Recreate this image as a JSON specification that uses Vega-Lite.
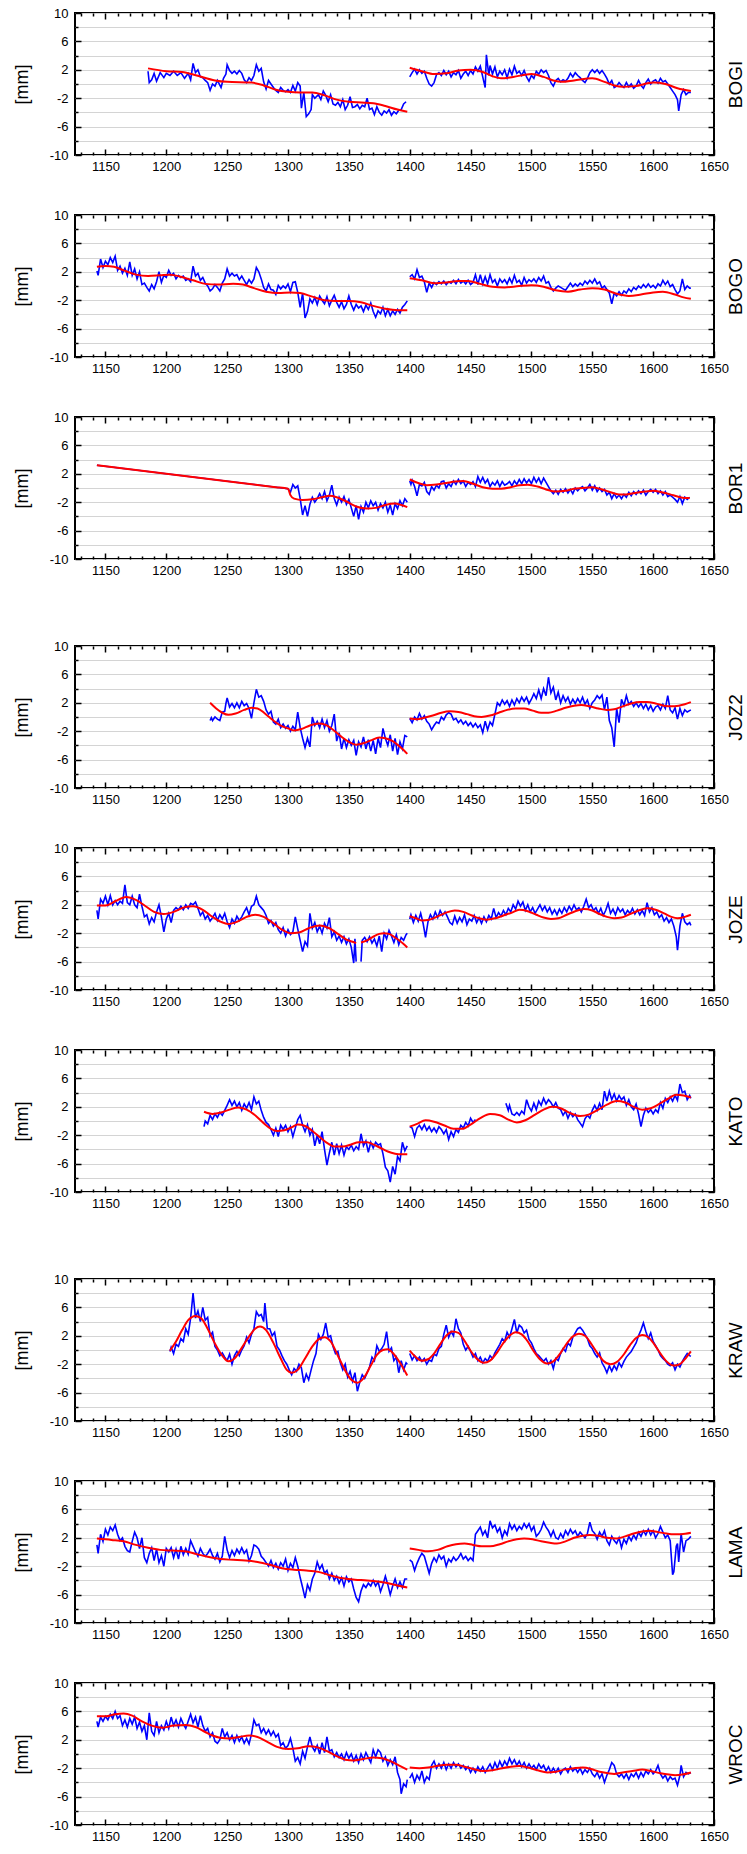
{
"$schema":"https://vega.github.io/schema/vega-lite/v6.json",
"padding":{"left":12,"top":6,"right":2,"bottom":2},
"background":"white",
"config":{
 "font":"Liberation Sans",
 "view":{"stroke":"#000","strokeWidth":2},
 "axis":{"domain":false,"grid":true,"gridColor":"#d4d4d4","gridWidth":1,"tickColor":"#000","tickWidth":1.5,"labelFont":"Liberation Sans","labelFontSize":13,"labelColor":"#000","labelFlush":false,"labelOverlap":false,"titleFont":"Liberation Sans","titleFontWeight":"normal","titleColor":"#000","titleFontSize":18},
 "axisX":{"tickCount":50,"labelPadding":11,"labelExpr":"datum.value % 50 === 0 ? '' + datum.value : ''","gridOpacity":{"condition":{"test":"datum.value % 50 === 0","value":1},"value":0},"tickSize":{"condition":{"test":"datum.value % 50 === 0","value":-6},"value":-3}},
 "axisY":{"tickCount":10,"labelPadding":13,"labelExpr":"(datum.value + 10) % 4 === 0 ? '' + datum.value : ''","tickSize":{"condition":{"test":"(datum.value + 10) % 4 === 0","value":-6},"value":-3},"titlePadding":18},
 "axisTop":{"labels":false,"grid":false},
 "axisRight":{"labels":false,"grid":false,"titleAngle":270,"titleBaseline":"top","titlePadding":12,"titleFontSize":19}
},
"datasets":{
"BOGI_b":[{"x":1185,"y":1.8},{"x":1186,"y":0.2},{"x":1188,"y":0.6},{"x":1190,"y":1.5},{"x":1192,"y":0.4},{"x":1195,"y":1.6},{"x":1198,"y":0.9},{"x":1200,"y":1.5},{"x":1203,"y":1.2},{"x":1206,"y":1.8},{"x":1209,"y":1.2},{"x":1212,"y":1.6},{"x":1215,"y":0.8},{"x":1218,"y":1.5},{"x":1220,"y":0.6},{"x":1222,"y":2.9},{"x":1224,"y":1.6},{"x":1226,"y":2.0},{"x":1228,"y":1.0},{"x":1230,"y":0.9},{"x":1232,"y":0.5},{"x":1234,"y":0.2},{"x":1236,"y":-0.9},{"x":1238,"y":0.0},{"x":1240,"y":-0.3},{"x":1242,"y":0.5},{"x":1245,"y":-0.5},{"x":1247,"y":0.8},{"x":1249,"y":1.4},{"x":1250,"y":2.7},{"x":1252,"y":1.9},{"x":1254,"y":1.5},{"x":1256,"y":1.8},{"x":1258,"y":1.4},{"x":1260,"y":1.9},{"x":1262,"y":1.5},{"x":1264,"y":0.6},{"x":1266,"y":0.2},{"x":1268,"y":0.9},{"x":1270,"y":0.5},{"x":1272,"y":1.2},{"x":1274,"y":2.7},{"x":1276,"y":1.8},{"x":1278,"y":2.2},{"x":1280,"y":0.3},{"x":1282,"y":-0.7},{"x":1284,"y":0.5},{"x":1286,"y":0.0},{"x":1288,"y":-0.5},{"x":1290,"y":-0.9},{"x":1292,"y":-1.2},{"x":1294,"y":-0.5},{"x":1296,"y":-0.9},{"x":1298,"y":-1.1},{"x":1300,"y":-0.8},{"x":1302,"y":-1.2},{"x":1304,"y":-0.2},{"x":1306,"y":-1.0},{"x":1308,"y":0.2},{"x":1310,"y":-0.3},{"x":1311,"y":-3.4},{"x":1313,"y":-1.2},{"x":1315,"y":-4.6},{"x":1317,"y":-4.2},{"x":1319,"y":-3.6},{"x":1320,"y":-1.5},{"x":1322,"y":-2.0},{"x":1325,"y":-1.5},{"x":1327,"y":-2.2},{"x":1329,"y":-1.0},{"x":1331,"y":-1.6},{"x":1333,"y":-2.5},{"x":1335,"y":-1.5},{"x":1337,"y":-2.8},{"x":1339,"y":-3.0},{"x":1341,"y":-2.6},{"x":1343,"y":-3.2},{"x":1345,"y":-2.2},{"x":1347,"y":-3.6},{"x":1349,"y":-3.0},{"x":1351,"y":-1.8},{"x":1353,"y":-3.3},{"x":1355,"y":-3.2},{"x":1357,"y":-2.9},{"x":1359,"y":-3.5},{"x":1361,"y":-3.0},{"x":1363,"y":-3.2},{"x":1365,"y":-2.0},{"x":1367,"y":-3.6},{"x":1369,"y":-3.4},{"x":1371,"y":-4.3},{"x":1373,"y":-3.2},{"x":1375,"y":-4.0},{"x":1377,"y":-4.4},{"x":1379,"y":-3.8},{"x":1381,"y":-4.1},{"x":1383,"y":-3.6},{"x":1385,"y":-4.4},{"x":1387,"y":-3.9},{"x":1389,"y":-4.2},{"x":1391,"y":-3.7},{"x":1393,"y":-3.6},{"x":1395,"y":-2.8},{"x":1397,"y":-2.5},{"x":1399,"y":null},
{"x":1400,"y":1.0},{"x":1402,"y":1.6},{"x":1404,"y":2.1},{"x":1406,"y":1.4},{"x":1408,"y":2.0},{"x":1410,"y":1.5},{"x":1412,"y":1.8},{"x":1414,"y":0.8},{"x":1416,"y":0.0},{"x":1418,"y":-0.3},{"x":1420,"y":0.2},{"x":1422,"y":1.3},{"x":1424,"y":1.6},{"x":1426,"y":1.2},{"x":1428,"y":1.9},{"x":1430,"y":1.3},{"x":1432,"y":1.8},{"x":1434,"y":1.0},{"x":1436,"y":1.6},{"x":1438,"y":1.3},{"x":1440,"y":1.9},{"x":1442,"y":0.8},{"x":1444,"y":1.4},{"x":1446,"y":1.8},{"x":1448,"y":1.2},{"x":1450,"y":1.9},{"x":1452,"y":1.4},{"x":1454,"y":2.4},{"x":1456,"y":1.8},{"x":1458,"y":2.5},{"x":1460,"y":1.0},{"x":1462,"y":-0.5},{"x":1463,"y":4.1},{"x":1465,"y":1.2},{"x":1466,"y":2.6},{"x":1468,"y":1.4},{"x":1470,"y":2.4},{"x":1472,"y":1.0},{"x":1474,"y":1.8},{"x":1476,"y":1.3},{"x":1478,"y":2.0},{"x":1480,"y":0.9},{"x":1482,"y":2.1},{"x":1484,"y":1.3},{"x":1486,"y":2.5},{"x":1488,"y":1.5},{"x":1490,"y":1.8},{"x":1492,"y":1.2},{"x":1494,"y":1.9},{"x":1496,"y":1.0},{"x":1498,"y":0.4},{"x":1500,"y":1.2},{"x":1502,"y":0.8},{"x":1504,"y":1.8},{"x":1506,"y":1.4},{"x":1508,"y":2.0},{"x":1510,"y":1.6},{"x":1512,"y":1.9},{"x":1514,"y":1.2},{"x":1516,"y":0.2},{"x":1518,"y":-0.3},{"x":1520,"y":0.5},{"x":1522,"y":0.8},{"x":1524,"y":0.3},{"x":1526,"y":0.6},{"x":1528,"y":0.4},{"x":1530,"y":0.8},{"x":1532,"y":1.5},{"x":1534,"y":1.0},{"x":1536,"y":1.6},{"x":1538,"y":1.2},{"x":1540,"y":0.9},{"x":1542,"y":0.5},{"x":1544,"y":0.2},{"x":1546,"y":0.8},{"x":1548,"y":1.6},{"x":1550,"y":2.0},{"x":1552,"y":1.6},{"x":1554,"y":2.0},{"x":1556,"y":1.5},{"x":1558,"y":1.9},{"x":1560,"y":1.4},{"x":1562,"y":0.8},{"x":1564,"y":0.0},{"x":1566,"y":0.5},{"x":1568,"y":-0.5},{"x":1570,"y":-0.3},{"x":1572,"y":0.2},{"x":1574,"y":-0.2},{"x":1576,"y":-0.5},{"x":1578,"y":0.2},{"x":1580,"y":-0.4},{"x":1582,"y":0.0},{"x":1584,"y":-0.6},{"x":1586,"y":-0.3},{"x":1588,"y":0.5},{"x":1590,"y":-0.2},{"x":1592,"y":-0.6},{"x":1594,"y":0.2},{"x":1596,"y":0.7},{"x":1598,"y":0.0},{"x":1600,"y":0.4},{"x":1602,"y":0.6},{"x":1604,"y":0.1},{"x":1606,"y":0.8},{"x":1608,"y":0.3},{"x":1610,"y":0.5},{"x":1612,"y":0.0},{"x":1614,"y":-0.5},{"x":1616,"y":-1.0},{"x":1618,"y":-1.5},{"x":1620,"y":-2.2},{"x":1621,"y":-3.8},{"x":1623,"y":-1.5},{"x":1625,"y":-0.8},{"x":1627,"y":-1.5},{"x":1629,"y":-1.2},{"x":1631,"y":-1.2}],
"BOGI_r":[{"x":1185,"y":2.2},{"x":1200,"y":1.8},{"x":1213,"y":1.7},{"x":1225,"y":1.2},{"x":1240,"y":0.5},{"x":1250,"y":0.3},{"x":1270,"y":0.2},{"x":1280,"y":-0.2},{"x":1290,"y":-0.8},{"x":1300,"y":-1.1},{"x":1310,"y":-1.2},{"x":1320,"y":-1.2},{"x":1330,"y":-1.6},{"x":1340,"y":-2.2},{"x":1350,"y":-2.5},{"x":1360,"y":-2.6},{"x":1370,"y":-2.7},{"x":1380,"y":-3.1},{"x":1390,"y":-3.6},{"x":1398,"y":-3.9},{"x":1399,"y":null},{"x":1400,"y":2.3},{"x":1410,"y":1.8},{"x":1420,"y":1.4},{"x":1430,"y":1.5},{"x":1440,"y":1.9},{"x":1450,"y":2.0},{"x":1460,"y":1.7},{"x":1468,"y":1.1},{"x":1475,"y":0.8},{"x":1485,"y":1.0},{"x":1500,"y":1.4},{"x":1510,"y":1.0},{"x":1518,"y":0.5},{"x":1525,"y":0.3},{"x":1535,"y":0.5},{"x":1550,"y":0.8},{"x":1560,"y":0.3},{"x":1568,"y":-0.2},{"x":1575,"y":-0.4},{"x":1585,"y":-0.3},{"x":1600,"y":0.2},{"x":1610,"y":0.0},{"x":1620,"y":-0.6},{"x":1631,"y":-1.0}],
"BOGO_b":[{"x":1143,"y":2.1},{"x":1144,"y":1.5},{"x":1146,"y":3.8},{"x":1148,"y":2.6},{"x":1150,"y":3.5},{"x":1152,"y":3.0},{"x":1154,"y":4.0},{"x":1156,"y":3.3},{"x":1158,"y":4.2},{"x":1160,"y":2.2},{"x":1162,"y":2.8},{"x":1164,"y":1.8},{"x":1166,"y":2.5},{"x":1168,"y":1.5},{"x":1170,"y":3.4},{"x":1172,"y":1.5},{"x":1174,"y":2.4},{"x":1176,"y":1.0},{"x":1178,"y":2.0},{"x":1180,"y":0.2},{"x":1182,"y":0.4},{"x":1184,"y":-0.2},{"x":1186,"y":-0.7},{"x":1188,"y":0.2},{"x":1190,"y":-0.4},{"x":1192,"y":0.6},{"x":1194,"y":2.0},{"x":1196,"y":0.5},{"x":1198,"y":1.5},{"x":1200,"y":1.2},{"x":1202,"y":2.2},{"x":1204,"y":1.5},{"x":1206,"y":1.8},{"x":1208,"y":1.0},{"x":1210,"y":1.5},{"x":1212,"y":1.2},{"x":1214,"y":1.4},{"x":1216,"y":0.8},{"x":1218,"y":1.0},{"x":1220,"y":0.6},{"x":1222,"y":2.8},{"x":1224,"y":1.4},{"x":1226,"y":1.8},{"x":1228,"y":0.8},{"x":1230,"y":1.2},{"x":1232,"y":0.4},{"x":1234,"y":0.0},{"x":1236,"y":-0.7},{"x":1238,"y":-0.4},{"x":1240,"y":0.2},{"x":1242,"y":-0.2},{"x":1244,"y":-0.7},{"x":1246,"y":0.4},{"x":1248,"y":1.0},{"x":1250,"y":2.4},{"x":1252,"y":1.4},{"x":1254,"y":1.8},{"x":1256,"y":1.4},{"x":1258,"y":1.6},{"x":1260,"y":0.9},{"x":1262,"y":1.4},{"x":1264,"y":0.8},{"x":1266,"y":0.2},{"x":1268,"y":0.9},{"x":1270,"y":0.4},{"x":1272,"y":1.0},{"x":1274,"y":2.6},{"x":1276,"y":2.0},{"x":1278,"y":1.0},{"x":1280,"y":-0.2},{"x":1282,"y":-0.7},{"x":1284,"y":0.3},{"x":1286,"y":-0.5},{"x":1288,"y":-0.6},{"x":1290,"y":-1.2},{"x":1292,"y":0.1},{"x":1294,"y":-0.4},{"x":1296,"y":0.0},{"x":1298,"y":-0.3},{"x":1300,"y":0.3},{"x":1302,"y":-0.8},{"x":1304,"y":0.5},{"x":1306,"y":0.6},{"x":1308,"y":-0.9},{"x":1310,"y":-3.0},{"x":1312,"y":-1.0},{"x":1314,"y":-4.5},{"x":1316,"y":-3.6},{"x":1318,"y":-1.8},{"x":1320,"y":-2.4},{"x":1322,"y":-1.6},{"x":1324,"y":-2.6},{"x":1326,"y":-1.4},{"x":1328,"y":-2.0},{"x":1330,"y":-2.5},{"x":1332,"y":-1.5},{"x":1334,"y":-2.8},{"x":1336,"y":-2.0},{"x":1338,"y":-1.3},{"x":1340,"y":-2.3},{"x":1342,"y":-3.0},{"x":1344,"y":-2.2},{"x":1346,"y":-3.2},{"x":1348,"y":-2.6},{"x":1350,"y":-1.4},{"x":1352,"y":-2.6},{"x":1354,"y":-3.4},{"x":1356,"y":-2.6},{"x":1358,"y":-3.1},{"x":1360,"y":-2.8},{"x":1362,"y":-3.6},{"x":1364,"y":-2.7},{"x":1366,"y":-3.3},{"x":1368,"y":-2.4},{"x":1370,"y":-3.6},{"x":1372,"y":-4.4},{"x":1374,"y":-3.5},{"x":1376,"y":-3.9},{"x":1378,"y":-3.0},{"x":1380,"y":-4.2},{"x":1382,"y":-3.3},{"x":1384,"y":-4.2},{"x":1386,"y":-3.5},{"x":1388,"y":-4.0},{"x":1390,"y":-3.3},{"x":1392,"y":-3.8},{"x":1394,"y":-3.0},{"x":1396,"y":-2.6},{"x":1398,"y":-2.1},{"x":1399,"y":null},
{"x":1400,"y":1.3},{"x":1402,"y":1.6},{"x":1404,"y":1.0},{"x":1406,"y":2.3},{"x":1408,"y":1.2},{"x":1410,"y":1.4},{"x":1412,"y":0.6},{"x":1414,"y":-0.9},{"x":1416,"y":0.4},{"x":1418,"y":-0.2},{"x":1420,"y":0.5},{"x":1422,"y":0.2},{"x":1424,"y":0.6},{"x":1426,"y":0.3},{"x":1428,"y":0.7},{"x":1430,"y":0.2},{"x":1432,"y":0.6},{"x":1434,"y":0.4},{"x":1436,"y":0.8},{"x":1438,"y":0.3},{"x":1440,"y":0.9},{"x":1442,"y":0.4},{"x":1444,"y":0.7},{"x":1446,"y":0.3},{"x":1448,"y":0.8},{"x":1450,"y":0.2},{"x":1452,"y":0.5},{"x":1454,"y":1.6},{"x":1456,"y":0.2},{"x":1458,"y":1.6},{"x":1460,"y":0.3},{"x":1462,"y":1.3},{"x":1464,"y":0.3},{"x":1466,"y":1.6},{"x":1468,"y":0.5},{"x":1470,"y":0.9},{"x":1472,"y":0.0},{"x":1474,"y":1.0},{"x":1476,"y":0.5},{"x":1478,"y":0.9},{"x":1480,"y":0.3},{"x":1482,"y":1.1},{"x":1484,"y":0.4},{"x":1486,"y":1.5},{"x":1488,"y":0.5},{"x":1490,"y":0.8},{"x":1492,"y":0.1},{"x":1494,"y":1.2},{"x":1496,"y":0.4},{"x":1498,"y":0.9},{"x":1500,"y":0.6},{"x":1502,"y":1.0},{"x":1504,"y":0.5},{"x":1506,"y":1.2},{"x":1508,"y":0.7},{"x":1510,"y":1.4},{"x":1512,"y":0.4},{"x":1514,"y":0.6},{"x":1516,"y":-0.2},{"x":1518,"y":-0.7},{"x":1520,"y":-0.3},{"x":1522,"y":0.0},{"x":1524,"y":-0.2},{"x":1526,"y":-0.4},{"x":1528,"y":-0.6},{"x":1530,"y":-0.1},{"x":1532,"y":0.4},{"x":1534,"y":-0.1},{"x":1536,"y":0.3},{"x":1538,"y":0.0},{"x":1540,"y":0.4},{"x":1542,"y":0.1},{"x":1544,"y":0.7},{"x":1546,"y":0.3},{"x":1548,"y":0.8},{"x":1550,"y":0.4},{"x":1552,"y":1.0},{"x":1554,"y":0.3},{"x":1556,"y":0.6},{"x":1558,"y":-0.3},{"x":1560,"y":0.0},{"x":1562,"y":-0.5},{"x":1564,"y":-1.0},{"x":1566,"y":-2.5},{"x":1568,"y":-1.0},{"x":1570,"y":-1.4},{"x":1572,"y":-0.8},{"x":1574,"y":-1.3},{"x":1576,"y":-0.7},{"x":1578,"y":-1.0},{"x":1580,"y":-0.4},{"x":1582,"y":-0.8},{"x":1584,"y":-0.2},{"x":1586,"y":-0.5},{"x":1588,"y":0.0},{"x":1590,"y":-0.3},{"x":1592,"y":0.2},{"x":1594,"y":-0.2},{"x":1596,"y":0.3},{"x":1598,"y":-0.2},{"x":1600,"y":0.1},{"x":1602,"y":-0.3},{"x":1604,"y":0.3},{"x":1606,"y":0.0},{"x":1608,"y":0.8},{"x":1610,"y":0.2},{"x":1612,"y":0.7},{"x":1614,"y":-0.1},{"x":1616,"y":0.2},{"x":1618,"y":-0.5},{"x":1620,"y":-1.1},{"x":1622,"y":-0.7},{"x":1624,"y":1.0},{"x":1626,"y":-0.5},{"x":1628,"y":0.0},{"x":1630,"y":-0.3},{"x":1631,"y":-0.3}],
"BOGO_r":[{"x":1143,"y":2.7},{"x":1150,"y":2.8},{"x":1157,"y":2.7},{"x":1165,"y":2.2},{"x":1175,"y":1.6},{"x":1185,"y":1.4},{"x":1195,"y":1.5},{"x":1203,"y":1.6},{"x":1212,"y":1.3},{"x":1222,"y":0.8},{"x":1232,"y":0.3},{"x":1242,"y":0.2},{"x":1255,"y":0.3},{"x":1263,"y":0.2},{"x":1272,"y":-0.3},{"x":1282,"y":-0.8},{"x":1292,"y":-1.0},{"x":1302,"y":-0.9},{"x":1310,"y":-1.0},{"x":1320,"y":-1.5},{"x":1330,"y":-2.0},{"x":1340,"y":-2.1},{"x":1350,"y":-2.1},{"x":1360,"y":-2.3},{"x":1370,"y":-2.8},{"x":1380,"y":-3.2},{"x":1390,"y":-3.4},{"x":1398,"y":-3.4},{"x":1399,"y":null},{"x":1400,"y":1.1},{"x":1410,"y":0.8},{"x":1420,"y":0.4},{"x":1430,"y":0.5},{"x":1440,"y":0.7},{"x":1448,"y":0.7},{"x":1458,"y":0.3},{"x":1468,"y":-0.1},{"x":1478,"y":-0.2},{"x":1490,"y":0.0},{"x":1500,"y":0.1},{"x":1510,"y":-0.1},{"x":1520,"y":-0.6},{"x":1530,"y":-0.8},{"x":1540,"y":-0.5},{"x":1550,"y":-0.3},{"x":1560,"y":-0.5},{"x":1570,"y":-1.1},{"x":1580,"y":-1.4},{"x":1590,"y":-1.2},{"x":1600,"y":-0.9},{"x":1608,"y":-0.8},{"x":1618,"y":-1.2},{"x":1625,"y":-1.6},{"x":1631,"y":-1.8}],
"BOR1_b":[{"x":1143,"y":3.2},{"x":1300,"y":-0.1},{"x":1302,"y":-0.6},{"x":1304,"y":0.5},{"x":1306,"y":0.0},{"x":1308,"y":0.3},{"x":1310,"y":-1.5},{"x":1312,"y":-3.8},{"x":1314,"y":-2.5},{"x":1316,"y":-4.0},{"x":1318,"y":-2.3},{"x":1320,"y":-1.3},{"x":1322,"y":-2.0},{"x":1324,"y":-1.5},{"x":1326,"y":-0.8},{"x":1328,"y":-1.5},{"x":1330,"y":-0.5},{"x":1332,"y":-1.8},{"x":1334,"y":-1.0},{"x":1336,"y":0.4},{"x":1338,"y":-1.5},{"x":1340,"y":-2.4},{"x":1342,"y":-1.3},{"x":1344,"y":-2.0},{"x":1346,"y":-1.2},{"x":1348,"y":-2.3},{"x":1350,"y":-1.6},{"x":1352,"y":-2.8},{"x":1354,"y":-4.0},{"x":1356,"y":-2.5},{"x":1358,"y":-4.4},{"x":1360,"y":-2.6},{"x":1362,"y":-3.4},{"x":1364,"y":-2.0},{"x":1366,"y":-2.8},{"x":1368,"y":-1.8},{"x":1370,"y":-2.5},{"x":1372,"y":-2.0},{"x":1374,"y":-3.1},{"x":1376,"y":-2.2},{"x":1378,"y":-2.8},{"x":1380,"y":-2.0},{"x":1382,"y":-3.4},{"x":1384,"y":-2.4},{"x":1386,"y":-3.8},{"x":1388,"y":-2.2},{"x":1390,"y":-2.9},{"x":1392,"y":-1.8},{"x":1394,"y":-2.5},{"x":1396,"y":-1.5},{"x":1398,"y":-2.0},{"x":1399,"y":null},
{"x":1400,"y":1.0},{"x":1401,"y":0.5},{"x":1402,"y":1.1},{"x":1404,"y":0.2},{"x":1406,"y":-1.1},{"x":1408,"y":0.5},{"x":1410,"y":0.3},{"x":1412,"y":0.8},{"x":1414,"y":-0.5},{"x":1416,"y":-0.9},{"x":1418,"y":0.2},{"x":1420,"y":-0.3},{"x":1422,"y":0.4},{"x":1424,"y":0.0},{"x":1426,"y":0.9},{"x":1428,"y":1.0},{"x":1430,"y":0.0},{"x":1432,"y":0.6},{"x":1434,"y":0.2},{"x":1436,"y":1.0},{"x":1438,"y":0.5},{"x":1440,"y":1.2},{"x":1442,"y":0.6},{"x":1444,"y":1.0},{"x":1446,"y":0.2},{"x":1448,"y":0.8},{"x":1450,"y":0.5},{"x":1452,"y":0.9},{"x":1454,"y":0.2},{"x":1456,"y":1.6},{"x":1458,"y":0.8},{"x":1460,"y":1.5},{"x":1462,"y":0.7},{"x":1464,"y":1.2},{"x":1466,"y":0.2},{"x":1468,"y":0.8},{"x":1470,"y":0.4},{"x":1472,"y":1.0},{"x":1474,"y":0.2},{"x":1476,"y":0.9},{"x":1478,"y":0.4},{"x":1480,"y":0.6},{"x":1482,"y":0.9},{"x":1484,"y":0.3},{"x":1486,"y":1.0},{"x":1488,"y":0.5},{"x":1490,"y":1.2},{"x":1492,"y":0.6},{"x":1494,"y":1.3},{"x":1496,"y":0.7},{"x":1498,"y":1.2},{"x":1500,"y":0.6},{"x":1502,"y":1.5},{"x":1504,"y":0.8},{"x":1506,"y":1.4},{"x":1508,"y":0.6},{"x":1510,"y":1.4},{"x":1512,"y":0.8},{"x":1514,"y":0.2},{"x":1516,"y":-0.4},{"x":1518,"y":-0.8},{"x":1520,"y":-0.3},{"x":1522,"y":-0.9},{"x":1524,"y":-0.2},{"x":1526,"y":-0.6},{"x":1528,"y":-0.1},{"x":1530,"y":-0.7},{"x":1532,"y":-0.2},{"x":1534,"y":-0.8},{"x":1536,"y":0.0},{"x":1538,"y":-0.4},{"x":1540,"y":0.0},{"x":1542,"y":0.2},{"x":1544,"y":-0.4},{"x":1546,"y":0.0},{"x":1548,"y":0.5},{"x":1550,"y":-0.3},{"x":1552,"y":0.3},{"x":1554,"y":-0.5},{"x":1556,"y":0.0},{"x":1558,"y":-0.5},{"x":1560,"y":-0.2},{"x":1562,"y":-1.0},{"x":1564,"y":-0.6},{"x":1566,"y":-1.5},{"x":1568,"y":-0.8},{"x":1570,"y":-1.4},{"x":1572,"y":-1.0},{"x":1574,"y":-1.5},{"x":1576,"y":-0.9},{"x":1578,"y":-1.3},{"x":1580,"y":-0.6},{"x":1582,"y":-1.1},{"x":1584,"y":-0.5},{"x":1586,"y":-0.9},{"x":1588,"y":-0.4},{"x":1590,"y":-0.8},{"x":1592,"y":-0.3},{"x":1594,"y":-1.0},{"x":1596,"y":-0.5},{"x":1598,"y":-0.2},{"x":1600,"y":-0.6},{"x":1602,"y":-0.2},{"x":1604,"y":-0.8},{"x":1606,"y":-0.4},{"x":1608,"y":-1.0},{"x":1610,"y":-0.5},{"x":1612,"y":-1.2},{"x":1614,"y":-1.0},{"x":1616,"y":-1.3},{"x":1618,"y":-1.6},{"x":1620,"y":-2.0},{"x":1622,"y":-1.2},{"x":1624,"y":-2.2},{"x":1626,"y":-1.3},{"x":1628,"y":-1.6},{"x":1630,"y":-1.3}],
"BOR1_r":[{"x":1143,"y":3.2},{"x":1180,"y":2.42},{"x":1220,"y":1.58},{"x":1260,"y":0.74},{"x":1290,"y":0.11},{"x":1300,"y":-0.1},{"x":1302,"y":-1.0},{"x":1305,"y":-1.5},{"x":1312,"y":-1.7},{"x":1320,"y":-1.6},{"x":1328,"y":-1.3},{"x":1334,"y":-1.1},{"x":1340,"y":-1.3},{"x":1348,"y":-1.9},{"x":1356,"y":-2.6},{"x":1365,"y":-2.9},{"x":1372,"y":-2.8},{"x":1380,"y":-2.4},{"x":1388,"y":-2.2},{"x":1393,"y":-2.4},{"x":1398,"y":-2.7},{"x":1399,"y":null},{"x":1400,"y":1.2},{"x":1407,"y":0.7},{"x":1414,"y":0.4},{"x":1422,"y":0.5},{"x":1430,"y":0.7},{"x":1437,"y":0.9},{"x":1444,"y":1.0},{"x":1452,"y":0.6},{"x":1460,"y":0.1},{"x":1468,"y":-0.1},{"x":1475,"y":-0.1},{"x":1483,"y":0.1},{"x":1490,"y":0.4},{"x":1497,"y":0.45},{"x":1505,"y":0.2},{"x":1512,"y":-0.2},{"x":1520,"y":-0.5},{"x":1528,"y":-0.4},{"x":1535,"y":-0.1},{"x":1542,"y":0.0},{"x":1550,"y":0.1},{"x":1558,"y":-0.2},{"x":1565,"y":-0.6},{"x":1572,"y":-0.9},{"x":1578,"y":-0.9},{"x":1585,"y":-0.7},{"x":1593,"y":-0.5},{"x":1600,"y":-0.4},{"x":1607,"y":-0.6},{"x":1614,"y":-0.9},{"x":1620,"y":-1.2},{"x":1626,"y":-1.4},{"x":1630,"y":-1.4}],
"JOZ2_b":[{"x":1236,"y":-0.5},{"x":1237,"y":-0.1},{"x":1238,"y":-0.5},{"x":1240,"y":0.0},{"x":1242,"y":-0.3},{"x":1244,"y":-0.5},{"x":1246,"y":0.7},{"x":1248,"y":0.8},{"x":1249,"y":1.9},{"x":1250,"y":2.7},{"x":1252,"y":1.4},{"x":1254,"y":1.9},{"x":1256,"y":1.3},{"x":1258,"y":2.0},{"x":1260,"y":1.3},{"x":1262,"y":2.2},{"x":1264,"y":1.6},{"x":1266,"y":1.9},{"x":1268,"y":1.2},{"x":1270,"y":-0.2},{"x":1272,"y":2.0},{"x":1274,"y":3.9},{"x":1276,"y":2.8},{"x":1278,"y":3.0},{"x":1280,"y":2.2},{"x":1282,"y":1.0},{"x":1284,"y":0.4},{"x":1286,"y":0.8},{"x":1288,"y":-0.7},{"x":1290,"y":-1.0},{"x":1292,"y":-0.3},{"x":1294,"y":-1.5},{"x":1296,"y":-1.0},{"x":1298,"y":-1.6},{"x":1300,"y":-1.2},{"x":1302,"y":-2.0},{"x":1304,"y":-1.3},{"x":1306,"y":-1.8},{"x":1308,"y":0.7},{"x":1310,"y":-1.5},{"x":1312,"y":-3.0},{"x":1314,"y":-4.3},{"x":1316,"y":-3.0},{"x":1318,"y":-4.2},{"x":1320,"y":0.0},{"x":1322,"y":-1.2},{"x":1324,"y":-0.6},{"x":1326,"y":-1.5},{"x":1328,"y":-0.3},{"x":1330,"y":-1.5},{"x":1332,"y":-0.5},{"x":1334,"y":-2.0},{"x":1336,"y":-1.2},{"x":1338,"y":0.4},{"x":1340,"y":-3.4},{"x":1342,"y":-2.2},{"x":1344,"y":-4.5},{"x":1346,"y":-3.0},{"x":1348,"y":-4.3},{"x":1350,"y":-3.2},{"x":1352,"y":-4.0},{"x":1354,"y":-3.3},{"x":1356,"y":-5.4},{"x":1358,"y":-3.5},{"x":1360,"y":-4.2},{"x":1362,"y":-2.8},{"x":1364,"y":-4.5},{"x":1366,"y":-3.2},{"x":1368,"y":-4.8},{"x":1370,"y":-3.3},{"x":1372,"y":-5.2},{"x":1374,"y":-3.0},{"x":1376,"y":-4.3},{"x":1378,"y":-1.6},{"x":1380,"y":-3.0},{"x":1382,"y":-4.0},{"x":1384,"y":-2.5},{"x":1386,"y":-4.8},{"x":1388,"y":-3.0},{"x":1390,"y":-5.3},{"x":1392,"y":-3.5},{"x":1394,"y":-4.5},{"x":1396,"y":-2.6},{"x":1398,"y":-2.8},{"x":1399,"y":null},
{"x":1400,"y":-0.2},{"x":1402,"y":-0.8},{"x":1404,"y":0.0},{"x":1406,"y":-0.4},{"x":1408,"y":0.5},{"x":1410,"y":-0.3},{"x":1412,"y":0.2},{"x":1414,"y":-0.6},{"x":1416,"y":-1.0},{"x":1418,"y":-1.8},{"x":1420,"y":-1.2},{"x":1422,"y":-0.7},{"x":1424,"y":-0.9},{"x":1426,"y":0.0},{"x":1428,"y":-0.4},{"x":1430,"y":0.3},{"x":1432,"y":0.6},{"x":1434,"y":0.4},{"x":1436,"y":-0.4},{"x":1438,"y":-0.2},{"x":1440,"y":-0.8},{"x":1442,"y":-0.4},{"x":1444,"y":-1.0},{"x":1446,"y":-0.6},{"x":1448,"y":-1.2},{"x":1450,"y":-0.8},{"x":1452,"y":-1.4},{"x":1454,"y":-0.9},{"x":1456,"y":-1.5},{"x":1458,"y":-1.1},{"x":1460,"y":-2.2},{"x":1462,"y":-0.6},{"x":1464,"y":-1.8},{"x":1466,"y":-0.7},{"x":1468,"y":-1.2},{"x":1470,"y":0.4},{"x":1472,"y":2.0},{"x":1474,"y":1.6},{"x":1476,"y":2.4},{"x":1478,"y":1.8},{"x":1480,"y":2.3},{"x":1482,"y":1.5},{"x":1484,"y":2.4},{"x":1486,"y":1.7},{"x":1488,"y":2.6},{"x":1490,"y":2.0},{"x":1492,"y":2.8},{"x":1494,"y":2.2},{"x":1496,"y":2.8},{"x":1498,"y":1.9},{"x":1500,"y":2.5},{"x":1502,"y":3.3},{"x":1504,"y":2.6},{"x":1506,"y":3.8},{"x":1508,"y":2.6},{"x":1510,"y":4.0},{"x":1512,"y":3.0},{"x":1514,"y":5.6},{"x":1516,"y":3.4},{"x":1518,"y":4.2},{"x":1520,"y":2.4},{"x":1522,"y":3.5},{"x":1524,"y":2.0},{"x":1526,"y":3.0},{"x":1528,"y":2.2},{"x":1530,"y":2.8},{"x":1532,"y":1.8},{"x":1534,"y":2.5},{"x":1536,"y":1.9},{"x":1538,"y":2.6},{"x":1540,"y":2.0},{"x":1542,"y":2.8},{"x":1544,"y":1.8},{"x":1546,"y":2.4},{"x":1548,"y":1.2},{"x":1550,"y":2.0},{"x":1552,"y":2.4},{"x":1554,"y":3.0},{"x":1556,"y":2.6},{"x":1558,"y":3.1},{"x":1560,"y":1.0},{"x":1562,"y":2.8},{"x":1564,"y":-0.5},{"x":1566,"y":-1.5},{"x":1568,"y":-4.2},{"x":1570,"y":1.2},{"x":1572,"y":-0.8},{"x":1574,"y":2.5},{"x":1576,"y":1.6},{"x":1578,"y":3.0},{"x":1580,"y":1.8},{"x":1582,"y":2.2},{"x":1584,"y":1.5},{"x":1586,"y":2.0},{"x":1588,"y":1.4},{"x":1590,"y":1.9},{"x":1592,"y":1.2},{"x":1594,"y":1.8},{"x":1596,"y":1.0},{"x":1598,"y":1.6},{"x":1600,"y":0.8},{"x":1602,"y":1.4},{"x":1604,"y":1.6},{"x":1606,"y":1.0},{"x":1608,"y":1.8},{"x":1610,"y":1.2},{"x":1612,"y":3.0},{"x":1614,"y":1.0},{"x":1616,"y":0.6},{"x":1618,"y":1.3},{"x":1620,"y":-0.3},{"x":1622,"y":1.2},{"x":1624,"y":0.2},{"x":1626,"y":1.0},{"x":1628,"y":0.7},{"x":1631,"y":1.0}],
"JOZ2_r":[{"x":1236,"y":2.0},{"x":1241,"y":1.2},{"x":1246,"y":0.6},{"x":1251,"y":0.3},{"x":1257,"y":0.5},{"x":1264,"y":1.0},{"x":1270,"y":1.3},{"x":1275,"y":1.2},{"x":1281,"y":0.5},{"x":1288,"y":-0.5},{"x":1294,"y":-1.2},{"x":1300,"y":-1.6},{"x":1305,"y":-1.9},{"x":1311,"y":-1.7},{"x":1318,"y":-1.2},{"x":1325,"y":-0.9},{"x":1331,"y":-1.1},{"x":1337,"y":-1.8},{"x":1344,"y":-2.8},{"x":1350,"y":-3.5},{"x":1356,"y":-3.9},{"x":1362,"y":-3.7},{"x":1368,"y":-3.3},{"x":1375,"y":-2.9},{"x":1380,"y":-3.0},{"x":1386,"y":-3.4},{"x":1392,"y":-4.2},{"x":1398,"y":-5.2},{"x":1399,"y":null},{"x":1400,"y":-0.2},{"x":1406,"y":-0.3},{"x":1412,"y":-0.1},{"x":1419,"y":0.2},{"x":1426,"y":0.6},{"x":1433,"y":0.8},{"x":1440,"y":0.7},{"x":1447,"y":0.4},{"x":1453,"y":0.1},{"x":1459,"y":0.0},{"x":1466,"y":0.2},{"x":1473,"y":0.6},{"x":1480,"y":1.0},{"x":1487,"y":1.2},{"x":1494,"y":1.2},{"x":1501,"y":0.9},{"x":1508,"y":0.6},{"x":1514,"y":0.6},{"x":1521,"y":0.9},{"x":1528,"y":1.3},{"x":1535,"y":1.6},{"x":1541,"y":1.7},{"x":1548,"y":1.5},{"x":1555,"y":1.2},{"x":1562,"y":1.0},{"x":1568,"y":1.1},{"x":1575,"y":1.5},{"x":1582,"y":1.9},{"x":1589,"y":2.1},{"x":1595,"y":2.1},{"x":1602,"y":1.9},{"x":1609,"y":1.6},{"x":1615,"y":1.5},{"x":1621,"y":1.6},{"x":1626,"y":1.8},{"x":1631,"y":2.1}],
"JOZE_b":[{"x":1143,"y":1.2},{"x":1144,"y":0.0},{"x":1146,"y":2.8},{"x":1148,"y":2.2},{"x":1150,"y":3.2},{"x":1152,"y":2.0},{"x":1154,"y":3.3},{"x":1156,"y":2.0},{"x":1158,"y":2.6},{"x":1160,"y":2.0},{"x":1162,"y":2.5},{"x":1164,"y":2.2},{"x":1166,"y":4.8},{"x":1168,"y":2.3},{"x":1170,"y":2.0},{"x":1172,"y":3.2},{"x":1174,"y":2.0},{"x":1176,"y":1.6},{"x":1178,"y":3.5},{"x":1180,"y":1.8},{"x":1182,"y":0.3},{"x":1184,"y":0.6},{"x":1186,"y":-0.7},{"x":1188,"y":0.2},{"x":1190,"y":-0.4},{"x":1192,"y":1.0},{"x":1194,"y":2.0},{"x":1196,"y":0.3},{"x":1198,"y":-1.8},{"x":1200,"y":0.0},{"x":1202,"y":0.8},{"x":1204,"y":-0.5},{"x":1206,"y":1.2},{"x":1208,"y":1.6},{"x":1210,"y":1.3},{"x":1212,"y":1.8},{"x":1214,"y":1.3},{"x":1216,"y":2.0},{"x":1218,"y":1.5},{"x":1220,"y":2.2},{"x":1222,"y":2.0},{"x":1224,"y":2.4},{"x":1226,"y":1.5},{"x":1228,"y":0.5},{"x":1230,"y":1.0},{"x":1232,"y":0.0},{"x":1234,"y":0.5},{"x":1236,"y":-0.3},{"x":1238,"y":0.2},{"x":1240,"y":0.8},{"x":1242,"y":-0.2},{"x":1244,"y":0.6},{"x":1246,"y":0.0},{"x":1248,"y":0.8},{"x":1250,"y":-0.4},{"x":1252,"y":-1.2},{"x":1254,"y":0.0},{"x":1256,"y":-0.6},{"x":1258,"y":0.4},{"x":1260,"y":-0.2},{"x":1262,"y":0.3},{"x":1264,"y":1.0},{"x":1266,"y":1.6},{"x":1268,"y":0.6},{"x":1270,"y":1.8},{"x":1272,"y":2.0},{"x":1274,"y":3.2},{"x":1276,"y":2.0},{"x":1278,"y":1.6},{"x":1280,"y":1.2},{"x":1282,"y":0.5},{"x":1284,"y":-0.6},{"x":1286,"y":-0.2},{"x":1288,"y":-1.0},{"x":1290,"y":-0.5},{"x":1292,"y":-1.5},{"x":1294,"y":-2.0},{"x":1296,"y":-1.2},{"x":1298,"y":-2.4},{"x":1300,"y":-1.5},{"x":1302,"y":-2.2},{"x":1304,"y":-1.8},{"x":1306,"y":0.3},{"x":1308,"y":-1.4},{"x":1310,"y":-3.0},{"x":1312,"y":-4.6},{"x":1314,"y":-3.2},{"x":1316,"y":-3.8},{"x":1318,"y":0.8},{"x":1320,"y":-1.3},{"x":1322,"y":-0.5},{"x":1324,"y":-1.8},{"x":1326,"y":-1.0},{"x":1328,"y":-2.0},{"x":1330,"y":-0.6},{"x":1332,"y":-1.3},{"x":1334,"y":0.2},{"x":1336,"y":-2.5},{"x":1338,"y":-1.8},{"x":1340,"y":-3.0},{"x":1342,"y":-2.4},{"x":1344,"y":-3.3},{"x":1346,"y":-2.5},{"x":1348,"y":-3.5},{"x":1350,"y":-2.8},{"x":1352,"y":-4.0},{"x":1354,"y":-6.2},{"x":1355,"y":-2.8},{"x":1356,"y":-6.0},{"x":1358,"y":null},{"x":1360,"y":-6.0},{"x":1361,"y":-3.0},{"x":1363,"y":-2.6},{"x":1365,"y":-3.2},{"x":1367,"y":-2.5},{"x":1369,"y":-3.4},{"x":1371,"y":-2.8},{"x":1373,"y":-3.8},{"x":1375,"y":-2.4},{"x":1377,"y":-4.6},{"x":1379,"y":-2.0},{"x":1381,"y":-2.8},{"x":1383,"y":-1.6},{"x":1385,"y":-2.4},{"x":1387,"y":-3.3},{"x":1389,"y":-2.2},{"x":1391,"y":-3.6},{"x":1393,"y":-2.6},{"x":1395,"y":-3.0},{"x":1397,"y":-2.2},{"x":1398,"y":-2.0},{"x":1399,"y":null},
{"x":1400,"y":0.0},{"x":1401,"y":0.6},{"x":1403,"y":-0.5},{"x":1405,"y":0.5},{"x":1407,"y":-0.3},{"x":1409,"y":0.8},{"x":1411,"y":-0.6},{"x":1413,"y":-2.6},{"x":1415,"y":-0.4},{"x":1417,"y":0.6},{"x":1419,"y":0.0},{"x":1421,"y":1.0},{"x":1423,"y":0.2},{"x":1425,"y":1.2},{"x":1427,"y":0.5},{"x":1429,"y":1.0},{"x":1431,"y":0.3},{"x":1433,"y":-0.5},{"x":1435,"y":-0.8},{"x":1437,"y":0.4},{"x":1439,"y":-0.6},{"x":1441,"y":0.2},{"x":1443,"y":-0.4},{"x":1445,"y":0.6},{"x":1447,"y":-0.8},{"x":1449,"y":0.0},{"x":1451,"y":-0.3},{"x":1453,"y":0.5},{"x":1455,"y":-0.5},{"x":1457,"y":0.2},{"x":1459,"y":-0.6},{"x":1461,"y":0.3},{"x":1463,"y":-0.4},{"x":1465,"y":0.5},{"x":1467,"y":0.0},{"x":1469,"y":1.5},{"x":1471,"y":0.2},{"x":1473,"y":0.9},{"x":1475,"y":0.4},{"x":1477,"y":1.2},{"x":1479,"y":0.6},{"x":1481,"y":1.5},{"x":1483,"y":1.0},{"x":1485,"y":2.0},{"x":1487,"y":1.4},{"x":1489,"y":2.5},{"x":1491,"y":1.8},{"x":1493,"y":2.4},{"x":1495,"y":1.2},{"x":1497,"y":2.0},{"x":1499,"y":1.0},{"x":1501,"y":1.6},{"x":1503,"y":0.8},{"x":1505,"y":1.4},{"x":1507,"y":2.0},{"x":1509,"y":1.2},{"x":1511,"y":1.8},{"x":1513,"y":1.0},{"x":1515,"y":1.6},{"x":1517,"y":0.7},{"x":1519,"y":1.3},{"x":1521,"y":0.6},{"x":1523,"y":1.4},{"x":1525,"y":0.8},{"x":1527,"y":1.6},{"x":1529,"y":1.0},{"x":1531,"y":1.8},{"x":1533,"y":1.2},{"x":1535,"y":2.0},{"x":1537,"y":1.3},{"x":1539,"y":1.6},{"x":1541,"y":1.0},{"x":1543,"y":1.8},{"x":1545,"y":2.8},{"x":1547,"y":1.6},{"x":1549,"y":2.0},{"x":1551,"y":1.2},{"x":1553,"y":1.6},{"x":1555,"y":0.8},{"x":1557,"y":1.5},{"x":1559,"y":0.5},{"x":1561,"y":1.2},{"x":1563,"y":2.2},{"x":1565,"y":0.8},{"x":1567,"y":1.4},{"x":1569,"y":0.6},{"x":1571,"y":1.6},{"x":1573,"y":1.0},{"x":1575,"y":1.4},{"x":1577,"y":0.6},{"x":1579,"y":1.2},{"x":1581,"y":0.8},{"x":1583,"y":1.5},{"x":1585,"y":0.7},{"x":1587,"y":1.3},{"x":1589,"y":0.6},{"x":1591,"y":1.2},{"x":1593,"y":0.5},{"x":1595,"y":2.3},{"x":1597,"y":1.0},{"x":1599,"y":1.6},{"x":1601,"y":0.6},{"x":1603,"y":1.0},{"x":1605,"y":0.2},{"x":1607,"y":0.6},{"x":1609,"y":-0.3},{"x":1611,"y":0.2},{"x":1613,"y":-0.5},{"x":1615,"y":0.0},{"x":1617,"y":-1.0},{"x":1619,"y":-2.5},{"x":1620,"y":-4.4},{"x":1622,"y":-1.0},{"x":1624,"y":0.8},{"x":1626,"y":-0.4},{"x":1628,"y":-0.8},{"x":1630,"y":-0.5},{"x":1631,"y":-0.9}],
"JOZE_r":[{"x":1143,"y":1.9},{"x":1150,"y":1.9},{"x":1158,"y":2.5},{"x":1167,"y":3.1},{"x":1175,"y":2.7},{"x":1183,"y":1.8},{"x":1190,"y":1.0},{"x":1198,"y":0.7},{"x":1206,"y":1.0},{"x":1214,"y":1.6},{"x":1222,"y":1.8},{"x":1230,"y":1.3},{"x":1238,"y":0.3},{"x":1245,"y":-0.4},{"x":1251,"y":-0.7},{"x":1258,"y":-0.4},{"x":1266,"y":0.3},{"x":1273,"y":0.6},{"x":1280,"y":0.3},{"x":1288,"y":-0.6},{"x":1295,"y":-1.5},{"x":1302,"y":-2.0},{"x":1309,"y":-1.9},{"x":1317,"y":-1.3},{"x":1326,"y":-0.9},{"x":1334,"y":-1.3},{"x":1341,"y":-2.1},{"x":1348,"y":-2.9},{"x":1353,"y":-3.2},{"x":1356,"y":-3.4},{"x":1358,"y":null},{"x":1360,"y":-3.3},{"x":1365,"y":-3.0},{"x":1370,"y":-2.5},{"x":1375,"y":-2.1},{"x":1379,"y":-2.0},{"x":1383,"y":-2.1},{"x":1387,"y":-2.5},{"x":1392,"y":-3.1},{"x":1398,"y":-4.0},{"x":1399,"y":null},{"x":1400,"y":0.4},{"x":1405,"y":0.1},{"x":1410,"y":-0.2},{"x":1416,"y":-0.1},{"x":1422,"y":0.3},{"x":1430,"y":0.9},{"x":1437,"y":1.2},{"x":1444,"y":1.0},{"x":1451,"y":0.5},{"x":1457,"y":0.1},{"x":1463,"y":-0.1},{"x":1470,"y":0.1},{"x":1477,"y":0.5},{"x":1484,"y":0.9},{"x":1490,"y":1.3},{"x":1497,"y":1.1},{"x":1504,"y":0.6},{"x":1510,"y":0.2},{"x":1516,"y":0.0},{"x":1522,"y":0.1},{"x":1529,"y":0.6},{"x":1536,"y":1.1},{"x":1543,"y":1.4},{"x":1550,"y":1.2},{"x":1556,"y":0.7},{"x":1562,"y":0.3},{"x":1568,"y":0.1},{"x":1574,"y":0.2},{"x":1581,"y":0.7},{"x":1588,"y":1.2},{"x":1595,"y":1.5},{"x":1602,"y":1.3},{"x":1609,"y":0.8},{"x":1615,"y":0.3},{"x":1620,"y":0.1},{"x":1626,"y":0.3},{"x":1631,"y":0.6}],
"KATO_b":[{"x":1231,"y":-0.8},{"x":1232,"y":0.0},{"x":1234,"y":-0.4},{"x":1236,"y":0.8},{"x":1238,"y":0.2},{"x":1240,"y":1.0},{"x":1242,"y":0.5},{"x":1244,"y":1.2},{"x":1246,"y":0.8},{"x":1248,"y":1.5},{"x":1250,"y":2.2},{"x":1252,"y":3.0},{"x":1254,"y":2.2},{"x":1256,"y":2.8},{"x":1258,"y":2.0},{"x":1260,"y":2.6},{"x":1262,"y":1.5},{"x":1264,"y":2.4},{"x":1266,"y":1.8},{"x":1268,"y":2.6},{"x":1270,"y":1.6},{"x":1272,"y":3.4},{"x":1274,"y":2.4},{"x":1276,"y":2.8},{"x":1278,"y":1.5},{"x":1280,"y":0.5},{"x":1282,"y":-0.2},{"x":1284,"y":-0.5},{"x":1286,"y":-1.2},{"x":1288,"y":-2.0},{"x":1290,"y":-1.0},{"x":1292,"y":-2.2},{"x":1294,"y":-0.6},{"x":1296,"y":-1.2},{"x":1298,"y":-0.6},{"x":1300,"y":-1.5},{"x":1302,"y":-0.8},{"x":1304,"y":-2.2},{"x":1306,"y":-1.0},{"x":1308,"y":0.2},{"x":1310,"y":0.8},{"x":1312,"y":-0.6},{"x":1314,"y":-1.5},{"x":1316,"y":-0.5},{"x":1318,"y":-2.0},{"x":1320,"y":-1.2},{"x":1322,"y":-3.5},{"x":1324,"y":-2.0},{"x":1326,"y":-3.2},{"x":1328,"y":-1.5},{"x":1330,"y":-4.0},{"x":1332,"y":-6.2},{"x":1334,"y":-4.5},{"x":1336,"y":-3.0},{"x":1338,"y":-4.8},{"x":1340,"y":-3.2},{"x":1342,"y":-4.6},{"x":1344,"y":-3.4},{"x":1346,"y":-4.8},{"x":1348,"y":-3.6},{"x":1350,"y":-4.0},{"x":1352,"y":-3.4},{"x":1354,"y":-4.2},{"x":1356,"y":-3.6},{"x":1358,"y":-4.0},{"x":1360,"y":-1.8},{"x":1362,"y":-3.5},{"x":1364,"y":-2.8},{"x":1366,"y":-4.4},{"x":1368,"y":-3.0},{"x":1370,"y":-3.8},{"x":1372,"y":-3.0},{"x":1374,"y":-3.4},{"x":1376,"y":-3.2},{"x":1378,"y":-4.6},{"x":1380,"y":-6.5},{"x":1382,"y":-7.0},{"x":1384,"y":-8.6},{"x":1386,"y":-6.4},{"x":1388,"y":-7.5},{"x":1390,"y":-5.0},{"x":1392,"y":-5.6},{"x":1394,"y":-3.0},{"x":1396,"y":-4.2},{"x":1398,"y":-3.5},{"x":1399,"y":null},
{"x":1400,"y":-0.8},{"x":1402,"y":-1.0},{"x":1404,"y":-2.2},{"x":1406,"y":-1.0},{"x":1408,"y":-0.6},{"x":1410,"y":-1.2},{"x":1412,"y":-0.5},{"x":1414,"y":-1.3},{"x":1416,"y":-0.8},{"x":1418,"y":-1.5},{"x":1420,"y":-1.0},{"x":1422,"y":-1.6},{"x":1424,"y":-0.8},{"x":1426,"y":-1.2},{"x":1428,"y":-1.8},{"x":1430,"y":-1.2},{"x":1432,"y":-2.6},{"x":1434,"y":-1.5},{"x":1436,"y":-2.2},{"x":1438,"y":-1.2},{"x":1440,"y":-1.6},{"x":1442,"y":-0.6},{"x":1444,"y":-1.0},{"x":1446,"y":-0.2},{"x":1448,"y":-0.7},{"x":1450,"y":0.4},{"x":1452,"y":-0.2},{"x":1454,"y":0.2},{"x":1466,"y":null},{"x":1479,"y":2.5},{"x":1481,"y":1.5},{"x":1482,"y":2.2},{"x":1484,"y":1.0},{"x":1486,"y":0.8},{"x":1488,"y":1.2},{"x":1490,"y":0.8},{"x":1492,"y":1.4},{"x":1494,"y":1.0},{"x":1496,"y":3.0},{"x":1498,"y":2.0},{"x":1500,"y":1.4},{"x":1502,"y":2.5},{"x":1504,"y":1.6},{"x":1506,"y":2.8},{"x":1508,"y":2.2},{"x":1510,"y":3.2},{"x":1512,"y":2.4},{"x":1514,"y":3.0},{"x":1516,"y":2.6},{"x":1518,"y":2.0},{"x":1520,"y":2.6},{"x":1522,"y":1.8},{"x":1524,"y":1.6},{"x":1526,"y":0.8},{"x":1528,"y":1.4},{"x":1530,"y":0.4},{"x":1532,"y":1.2},{"x":1534,"y":0.6},{"x":1536,"y":1.0},{"x":1538,"y":0.2},{"x":1540,"y":-0.3},{"x":1542,"y":-0.8},{"x":1544,"y":0.3},{"x":1546,"y":0.8},{"x":1548,"y":0.4},{"x":1550,"y":1.5},{"x":1552,"y":2.2},{"x":1554,"y":1.5},{"x":1556,"y":2.5},{"x":1558,"y":1.6},{"x":1560,"y":4.2},{"x":1562,"y":2.8},{"x":1564,"y":4.2},{"x":1566,"y":3.0},{"x":1568,"y":3.8},{"x":1570,"y":2.8},{"x":1572,"y":3.6},{"x":1574,"y":3.0},{"x":1576,"y":3.4},{"x":1578,"y":2.2},{"x":1580,"y":3.0},{"x":1582,"y":2.0},{"x":1584,"y":1.6},{"x":1586,"y":2.4},{"x":1588,"y":1.0},{"x":1590,"y":-0.8},{"x":1592,"y":0.8},{"x":1594,"y":1.8},{"x":1596,"y":1.2},{"x":1598,"y":1.6},{"x":1600,"y":1.0},{"x":1602,"y":1.6},{"x":1604,"y":1.2},{"x":1606,"y":2.6},{"x":1608,"y":1.8},{"x":1610,"y":3.2},{"x":1612,"y":2.6},{"x":1614,"y":3.4},{"x":1616,"y":2.8},{"x":1618,"y":3.6},{"x":1620,"y":2.9},{"x":1622,"y":5.2},{"x":1624,"y":4.0},{"x":1626,"y":4.2},{"x":1628,"y":3.0},{"x":1630,"y":3.6},{"x":1631,"y":3.2}],
"KATO_r":[{"x":1231,"y":1.3},{"x":1238,"y":1.0},{"x":1245,"y":1.2},{"x":1252,"y":1.6},{"x":1259,"y":1.9},{"x":1266,"y":1.6},{"x":1273,"y":0.8},{"x":1280,"y":-0.3},{"x":1286,"y":-1.1},{"x":1291,"y":-1.4},{"x":1297,"y":-1.3},{"x":1303,"y":-0.9},{"x":1308,"y":-0.5},{"x":1314,"y":-0.7},{"x":1320,"y":-1.4},{"x":1327,"y":-2.4},{"x":1333,"y":-3.2},{"x":1338,"y":-3.6},{"x":1345,"y":-3.6},{"x":1352,"y":-3.3},{"x":1358,"y":-3.0},{"x":1365,"y":-3.0},{"x":1370,"y":-3.3},{"x":1376,"y":-3.8},{"x":1382,"y":-4.3},{"x":1388,"y":-4.6},{"x":1393,"y":-4.7},{"x":1398,"y":-4.7},{"x":1399,"y":null},{"x":1400,"y":-0.8},{"x":1406,"y":-0.4},{"x":1413,"y":0.1},{"x":1420,"y":-0.1},{"x":1428,"y":-0.6},{"x":1436,"y":-1.1},{"x":1443,"y":-1.1},{"x":1450,"y":-0.5},{"x":1458,"y":0.4},{"x":1466,"y":1.0},{"x":1474,"y":0.8},{"x":1481,"y":0.2},{"x":1488,"y":-0.2},{"x":1495,"y":0.1},{"x":1503,"y":0.9},{"x":1510,"y":1.6},{"x":1517,"y":2.0},{"x":1524,"y":1.8},{"x":1532,"y":1.1},{"x":1540,"y":0.7},{"x":1547,"y":0.9},{"x":1555,"y":1.6},{"x":1562,"y":2.3},{"x":1570,"y":2.8},{"x":1577,"y":2.6},{"x":1584,"y":2.0},{"x":1591,"y":1.6},{"x":1598,"y":1.8},{"x":1605,"y":2.4},{"x":1612,"y":3.1},{"x":1619,"y":3.7},{"x":1625,"y":3.6},{"x":1631,"y":3.3}],
"KRAW_b":[{"x":1203,"y":-0.2},{"x":1204,"y":0.4},{"x":1206,"y":-0.5},{"x":1208,"y":0.8},{"x":1210,"y":0.5},{"x":1212,"y":1.6},{"x":1214,"y":1.2},{"x":1216,"y":3.0},{"x":1218,"y":2.2},{"x":1220,"y":4.5},{"x":1222,"y":8.0},{"x":1224,"y":4.5},{"x":1226,"y":5.5},{"x":1228,"y":4.0},{"x":1230,"y":6.0},{"x":1232,"y":4.2},{"x":1234,"y":4.6},{"x":1236,"y":2.0},{"x":1238,"y":2.5},{"x":1240,"y":0.5},{"x":1242,"y":0.0},{"x":1244,"y":-0.8},{"x":1246,"y":-0.4},{"x":1248,"y":-1.0},{"x":1250,"y":-1.5},{"x":1252,"y":-0.6},{"x":1254,"y":-2.0},{"x":1256,"y":-0.8},{"x":1258,"y":-0.2},{"x":1260,"y":-0.8},{"x":1262,"y":0.0},{"x":1264,"y":0.6},{"x":1266,"y":1.8},{"x":1268,"y":1.0},{"x":1270,"y":2.2},{"x":1272,"y":3.0},{"x":1274,"y":5.4},{"x":1276,"y":4.8},{"x":1278,"y":5.0},{"x":1280,"y":4.0},{"x":1281,"y":6.6},{"x":1283,"y":3.0},{"x":1285,"y":3.0},{"x":1287,"y":2.0},{"x":1289,"y":2.5},{"x":1291,"y":0.5},{"x":1293,"y":0.0},{"x":1295,"y":-0.8},{"x":1297,"y":-1.5},{"x":1299,"y":-2.0},{"x":1301,"y":-2.8},{"x":1303,"y":-3.5},{"x":1305,"y":-2.6},{"x":1307,"y":-3.0},{"x":1309,"y":-2.0},{"x":1311,"y":-2.5},{"x":1313,"y":-4.6},{"x":1315,"y":-3.4},{"x":1317,"y":-4.2},{"x":1319,"y":-2.8},{"x":1321,"y":-1.5},{"x":1323,"y":-0.5},{"x":1325,"y":2.2},{"x":1327,"y":1.5},{"x":1329,"y":2.2},{"x":1331,"y":3.8},{"x":1333,"y":1.8},{"x":1335,"y":2.0},{"x":1337,"y":0.5},{"x":1339,"y":-0.5},{"x":1341,"y":-0.2},{"x":1343,"y":-1.8},{"x":1345,"y":-2.8},{"x":1347,"y":-2.0},{"x":1349,"y":-3.8},{"x":1351,"y":-3.0},{"x":1353,"y":-4.4},{"x":1355,"y":-3.2},{"x":1357,"y":-5.8},{"x":1359,"y":-4.5},{"x":1361,"y":-3.5},{"x":1363,"y":-4.0},{"x":1365,"y":-3.2},{"x":1367,"y":-2.4},{"x":1369,"y":-1.0},{"x":1371,"y":-1.5},{"x":1373,"y":0.6},{"x":1375,"y":-0.2},{"x":1377,"y":0.2},{"x":1379,"y":0.8},{"x":1381,"y":2.6},{"x":1383,"y":-0.2},{"x":1385,"y":0.3},{"x":1387,"y":-1.5},{"x":1389,"y":-1.0},{"x":1391,"y":-3.2},{"x":1393,"y":-1.5},{"x":1395,"y":-2.8},{"x":1397,"y":-1.8},{"x":1398,"y":-2.0},{"x":1399,"y":null},
{"x":1400,"y":-0.5},{"x":1402,"y":-1.4},{"x":1404,"y":-0.8},{"x":1406,"y":-1.5},{"x":1408,"y":-1.0},{"x":1410,"y":-1.6},{"x":1412,"y":-1.2},{"x":1414,"y":-2.0},{"x":1416,"y":-1.4},{"x":1418,"y":-1.6},{"x":1420,"y":-0.6},{"x":1422,"y":-0.8},{"x":1424,"y":0.2},{"x":1426,"y":0.5},{"x":1428,"y":2.2},{"x":1430,"y":3.5},{"x":1432,"y":1.8},{"x":1434,"y":2.6},{"x":1436,"y":2.0},{"x":1438,"y":4.4},{"x":1440,"y":3.0},{"x":1442,"y":2.4},{"x":1444,"y":0.8},{"x":1446,"y":0.0},{"x":1448,"y":0.5},{"x":1450,"y":-0.2},{"x":1452,"y":-1.0},{"x":1454,"y":-0.5},{"x":1456,"y":-1.5},{"x":1458,"y":-1.0},{"x":1460,"y":-1.8},{"x":1462,"y":-1.2},{"x":1464,"y":-1.6},{"x":1466,"y":-0.8},{"x":1468,"y":-1.2},{"x":1470,"y":-0.4},{"x":1472,"y":0.2},{"x":1474,"y":0.8},{"x":1476,"y":1.6},{"x":1478,"y":1.2},{"x":1480,"y":2.5},{"x":1482,"y":1.8},{"x":1484,"y":3.0},{"x":1486,"y":4.3},{"x":1488,"y":2.4},{"x":1490,"y":3.5},{"x":1492,"y":3.2},{"x":1494,"y":2.4},{"x":1496,"y":2.8},{"x":1498,"y":1.5},{"x":1500,"y":1.0},{"x":1502,"y":0.2},{"x":1504,"y":-0.5},{"x":1506,"y":-0.8},{"x":1508,"y":-1.2},{"x":1510,"y":-1.6},{"x":1512,"y":-1.2},{"x":1514,"y":-2.0},{"x":1516,"y":-1.5},{"x":1518,"y":-2.6},{"x":1520,"y":-1.2},{"x":1522,"y":-1.5},{"x":1524,"y":-0.5},{"x":1526,"y":0.2},{"x":1528,"y":-0.2},{"x":1530,"y":1.0},{"x":1532,"y":0.6},{"x":1534,"y":1.8},{"x":1536,"y":2.4},{"x":1538,"y":3.0},{"x":1540,"y":3.2},{"x":1542,"y":2.8},{"x":1544,"y":2.2},{"x":1546,"y":1.6},{"x":1548,"y":0.6},{"x":1550,"y":0.2},{"x":1552,"y":-0.5},{"x":1554,"y":-1.0},{"x":1556,"y":-0.4},{"x":1558,"y":-1.8},{"x":1560,"y":-2.4},{"x":1562,"y":-3.2},{"x":1564,"y":-2.2},{"x":1566,"y":-3.0},{"x":1568,"y":-2.2},{"x":1570,"y":-2.8},{"x":1572,"y":-1.8},{"x":1574,"y":-2.4},{"x":1576,"y":-1.6},{"x":1578,"y":-1.0},{"x":1580,"y":-0.6},{"x":1582,"y":-0.2},{"x":1584,"y":0.4},{"x":1586,"y":1.0},{"x":1588,"y":2.0},{"x":1590,"y":2.8},{"x":1592,"y":3.8},{"x":1594,"y":2.6},{"x":1596,"y":1.6},{"x":1598,"y":2.4},{"x":1600,"y":1.2},{"x":1602,"y":0.6},{"x":1604,"y":0.0},{"x":1606,"y":-0.8},{"x":1608,"y":-1.2},{"x":1610,"y":-1.5},{"x":1612,"y":-2.0},{"x":1614,"y":-2.2},{"x":1616,"y":-1.8},{"x":1618,"y":-2.8},{"x":1620,"y":-2.0},{"x":1622,"y":-2.4},{"x":1624,"y":-1.6},{"x":1626,"y":-1.0},{"x":1628,"y":-0.5},{"x":1630,"y":-0.8},{"x":1631,"y":-0.9}],
"KRAW_r":[{"x":1203,"y":-0.1},{"x":1208,"y":1.2},{"x":1213,"y":2.8},{"x":1218,"y":4.2},{"x":1224,"y":4.8},{"x":1229,"y":4.4},{"x":1234,"y":3.0},{"x":1240,"y":0.9},{"x":1246,"y":-0.8},{"x":1251,"y":-1.6},{"x":1256,"y":-1.2},{"x":1262,"y":0.3},{"x":1268,"y":1.9},{"x":1273,"y":3.0},{"x":1277,"y":3.3},{"x":1282,"y":2.8},{"x":1288,"y":1.0},{"x":1294,"y":-1.2},{"x":1299,"y":-2.8},{"x":1303,"y":-3.2},{"x":1308,"y":-2.8},{"x":1314,"y":-1.2},{"x":1320,"y":0.5},{"x":1325,"y":1.5},{"x":1330,"y":1.8},{"x":1335,"y":1.2},{"x":1341,"y":-0.8},{"x":1347,"y":-2.9},{"x":1352,"y":-4.2},{"x":1357,"y":-4.6},{"x":1362,"y":-4.0},{"x":1368,"y":-2.2},{"x":1373,"y":-0.7},{"x":1378,"y":0.0},{"x":1382,"y":0.1},{"x":1387,"y":-0.6},{"x":1392,"y":-1.8},{"x":1398,"y":-3.6},{"x":1399,"y":null},{"x":1400,"y":-0.1},{"x":1405,"y":-1.0},{"x":1410,"y":-1.5},{"x":1415,"y":-1.3},{"x":1420,"y":-0.5},{"x":1425,"y":0.8},{"x":1430,"y":2.0},{"x":1435,"y":2.6},{"x":1440,"y":2.4},{"x":1445,"y":1.3},{"x":1450,"y":-0.1},{"x":1455,"y":-1.2},{"x":1461,"y":-1.8},{"x":1466,"y":-1.5},{"x":1472,"y":-0.3},{"x":1477,"y":1.0},{"x":1482,"y":2.0},{"x":1487,"y":2.5},{"x":1492,"y":2.2},{"x":1497,"y":1.2},{"x":1502,"y":-0.2},{"x":1507,"y":-1.3},{"x":1513,"y":-1.9},{"x":1518,"y":-1.6},{"x":1524,"y":-0.4},{"x":1529,"y":0.9},{"x":1534,"y":1.9},{"x":1539,"y":2.3},{"x":1544,"y":2.0},{"x":1549,"y":0.9},{"x":1554,"y":-0.4},{"x":1559,"y":-1.5},{"x":1565,"y":-2.0},{"x":1570,"y":-1.7},{"x":1576,"y":-0.6},{"x":1581,"y":0.7},{"x":1586,"y":1.7},{"x":1591,"y":2.1},{"x":1596,"y":1.8},{"x":1601,"y":0.8},{"x":1606,"y":-0.5},{"x":1611,"y":-1.6},{"x":1617,"y":-2.2},{"x":1622,"y":-2.0},{"x":1627,"y":-1.1},{"x":1631,"y":-0.2}],
"LAMA_b":[{"x":1143,"y":1.0},{"x":1144,"y":-0.2},{"x":1146,"y":2.5},{"x":1148,"y":1.5},{"x":1150,"y":3.2},{"x":1152,"y":2.4},{"x":1154,"y":3.5},{"x":1156,"y":3.0},{"x":1158,"y":3.8},{"x":1160,"y":2.5},{"x":1162,"y":1.6},{"x":1164,"y":2.0},{"x":1166,"y":0.8},{"x":1168,"y":0.2},{"x":1170,"y":0.0},{"x":1172,"y":1.5},{"x":1174,"y":2.8},{"x":1176,"y":2.0},{"x":1178,"y":0.5},{"x":1180,"y":2.0},{"x":1182,"y":-0.8},{"x":1184,"y":-1.5},{"x":1186,"y":-0.2},{"x":1188,"y":0.6},{"x":1190,"y":-1.2},{"x":1192,"y":0.4},{"x":1194,"y":-1.5},{"x":1196,"y":-0.5},{"x":1198,"y":-2.0},{"x":1200,"y":0.5},{"x":1202,"y":0.0},{"x":1204,"y":0.6},{"x":1206,"y":-0.8},{"x":1208,"y":0.4},{"x":1210,"y":-1.0},{"x":1212,"y":0.8},{"x":1214,"y":-0.4},{"x":1216,"y":0.5},{"x":1218,"y":-0.3},{"x":1220,"y":1.6},{"x":1222,"y":0.8},{"x":1224,"y":0.0},{"x":1226,"y":-0.6},{"x":1228,"y":0.5},{"x":1230,"y":-0.2},{"x":1232,"y":-0.6},{"x":1234,"y":-0.2},{"x":1236,"y":0.4},{"x":1238,"y":-0.5},{"x":1240,"y":-1.0},{"x":1242,"y":-0.2},{"x":1244,"y":-1.4},{"x":1246,"y":-0.6},{"x":1248,"y":2.2},{"x":1250,"y":0.3},{"x":1252,"y":-0.8},{"x":1254,"y":0.2},{"x":1256,"y":-0.5},{"x":1258,"y":0.4},{"x":1260,"y":-0.2},{"x":1262,"y":0.6},{"x":1264,"y":-0.2},{"x":1266,"y":0.3},{"x":1268,"y":-1.3},{"x":1270,"y":-0.5},{"x":1272,"y":1.0},{"x":1274,"y":0.8},{"x":1276,"y":0.4},{"x":1278,"y":-0.6},{"x":1280,"y":-1.0},{"x":1282,"y":-1.5},{"x":1284,"y":-2.0},{"x":1286,"y":-1.2},{"x":1288,"y":-2.2},{"x":1290,"y":-1.6},{"x":1292,"y":-2.4},{"x":1294,"y":-1.5},{"x":1296,"y":-2.0},{"x":1298,"y":-1.0},{"x":1300,"y":-2.6},{"x":1302,"y":-1.6},{"x":1304,"y":-2.2},{"x":1306,"y":-0.8},{"x":1308,"y":-2.0},{"x":1310,"y":-3.6},{"x":1312,"y":-5.0},{"x":1314,"y":-6.5},{"x":1316,"y":-4.6},{"x":1318,"y":-5.4},{"x":1320,"y":-3.8},{"x":1322,"y":-3.0},{"x":1324,"y":-1.4},{"x":1326,"y":-2.4},{"x":1328,"y":-1.8},{"x":1330,"y":-3.0},{"x":1332,"y":-2.6},{"x":1334,"y":-3.8},{"x":1336,"y":-3.0},{"x":1338,"y":-4.0},{"x":1340,"y":-3.4},{"x":1342,"y":-4.4},{"x":1344,"y":-3.6},{"x":1346,"y":-4.8},{"x":1348,"y":-3.5},{"x":1350,"y":-4.2},{"x":1352,"y":-3.8},{"x":1354,"y":-5.2},{"x":1356,"y":-6.4},{"x":1358,"y":-7.0},{"x":1360,"y":-5.5},{"x":1362,"y":-4.6},{"x":1364,"y":-5.0},{"x":1366,"y":-4.4},{"x":1368,"y":-4.8},{"x":1370,"y":-4.0},{"x":1372,"y":-4.8},{"x":1374,"y":-4.2},{"x":1376,"y":-5.6},{"x":1378,"y":-4.6},{"x":1380,"y":-3.4},{"x":1382,"y":-4.6},{"x":1384,"y":-6.0},{"x":1386,"y":-4.8},{"x":1388,"y":-3.8},{"x":1390,"y":-5.0},{"x":1392,"y":-4.2},{"x":1394,"y":-5.0},{"x":1396,"y":-3.8},{"x":1398,"y":-3.8},{"x":1399,"y":null},
{"x":1400,"y":-1.1},{"x":1402,"y":-1.4},{"x":1404,"y":-2.6},{"x":1406,"y":-1.6},{"x":1408,"y":-0.8},{"x":1410,"y":-0.2},{"x":1412,"y":-0.6},{"x":1414,"y":-1.8},{"x":1416,"y":-3.0},{"x":1418,"y":-1.6},{"x":1420,"y":-0.8},{"x":1422,"y":-1.4},{"x":1424,"y":-0.4},{"x":1426,"y":-1.0},{"x":1428,"y":-0.6},{"x":1430,"y":-2.0},{"x":1432,"y":-1.0},{"x":1434,"y":-1.4},{"x":1436,"y":-0.7},{"x":1438,"y":-1.2},{"x":1440,"y":-0.8},{"x":1442,"y":-0.2},{"x":1444,"y":-1.0},{"x":1446,"y":-0.6},{"x":1448,"y":-1.2},{"x":1450,"y":-0.8},{"x":1452,"y":-1.2},{"x":1454,"y":2.5},{"x":1456,"y":3.0},{"x":1458,"y":3.5},{"x":1460,"y":2.4},{"x":1462,"y":3.0},{"x":1464,"y":2.0},{"x":1466,"y":4.4},{"x":1468,"y":3.4},{"x":1470,"y":3.8},{"x":1472,"y":2.8},{"x":1474,"y":3.4},{"x":1476,"y":2.0},{"x":1478,"y":3.0},{"x":1480,"y":2.4},{"x":1482,"y":4.0},{"x":1484,"y":3.2},{"x":1486,"y":3.8},{"x":1488,"y":3.0},{"x":1490,"y":3.6},{"x":1492,"y":3.2},{"x":1494,"y":4.0},{"x":1496,"y":3.4},{"x":1498,"y":4.0},{"x":1500,"y":3.0},{"x":1502,"y":3.6},{"x":1504,"y":2.2},{"x":1506,"y":2.6},{"x":1508,"y":3.2},{"x":1510,"y":4.2},{"x":1512,"y":3.5},{"x":1514,"y":3.0},{"x":1516,"y":2.2},{"x":1518,"y":3.0},{"x":1520,"y":2.0},{"x":1522,"y":1.8},{"x":1524,"y":2.6},{"x":1526,"y":2.0},{"x":1528,"y":3.0},{"x":1530,"y":2.4},{"x":1532,"y":3.2},{"x":1534,"y":2.6},{"x":1536,"y":3.0},{"x":1538,"y":2.2},{"x":1540,"y":2.8},{"x":1542,"y":2.4},{"x":1544,"y":2.0},{"x":1546,"y":2.6},{"x":1548,"y":4.2},{"x":1550,"y":3.0},{"x":1552,"y":2.6},{"x":1554,"y":1.8},{"x":1556,"y":2.8},{"x":1558,"y":2.2},{"x":1560,"y":3.0},{"x":1562,"y":1.6},{"x":1564,"y":1.0},{"x":1566,"y":2.2},{"x":1568,"y":1.6},{"x":1570,"y":1.2},{"x":1572,"y":2.0},{"x":1574,"y":0.6},{"x":1576,"y":1.8},{"x":1578,"y":1.2},{"x":1580,"y":2.2},{"x":1582,"y":1.6},{"x":1584,"y":2.4},{"x":1586,"y":1.8},{"x":1588,"y":2.8},{"x":1590,"y":2.2},{"x":1592,"y":3.0},{"x":1594,"y":2.4},{"x":1596,"y":3.2},{"x":1598,"y":2.4},{"x":1600,"y":3.0},{"x":1602,"y":2.0},{"x":1604,"y":2.6},{"x":1606,"y":3.6},{"x":1608,"y":2.8},{"x":1610,"y":2.0},{"x":1612,"y":2.4},{"x":1614,"y":1.6},{"x":1616,"y":-3.2},{"x":1617,"y":-2.8},{"x":1619,"y":0.8},{"x":1620,"y":1.2},{"x":1621,"y":-1.4},{"x":1623,"y":2.6},{"x":1625,"y":0.0},{"x":1627,"y":1.6},{"x":1629,"y":1.8},{"x":1631,"y":2.2}],
"LAMA_r":[{"x":1143,"y":1.9},{"x":1155,"y":1.7},{"x":1165,"y":1.5},{"x":1175,"y":1.0},{"x":1185,"y":0.6},{"x":1195,"y":0.3},{"x":1205,"y":0.2},{"x":1215,"y":0.1},{"x":1225,"y":-0.3},{"x":1235,"y":-0.7},{"x":1245,"y":-1.0},{"x":1255,"y":-1.1},{"x":1265,"y":-1.2},{"x":1275,"y":-1.4},{"x":1285,"y":-1.8},{"x":1295,"y":-2.3},{"x":1305,"y":-2.5},{"x":1315,"y":-2.6},{"x":1325,"y":-2.8},{"x":1335,"y":-3.3},{"x":1345,"y":-3.7},{"x":1355,"y":-3.9},{"x":1365,"y":-4.0},{"x":1375,"y":-4.2},{"x":1385,"y":-4.5},{"x":1392,"y":-4.8},{"x":1398,"y":-5.0},{"x":1399,"y":null},{"x":1400,"y":0.5},{"x":1407,"y":0.3},{"x":1415,"y":0.1},{"x":1423,"y":0.3},{"x":1431,"y":0.8},{"x":1438,"y":1.1},{"x":1445,"y":1.2},{"x":1452,"y":1.0},{"x":1459,"y":0.8},{"x":1466,"y":0.8},{"x":1474,"y":1.1},{"x":1481,"y":1.5},{"x":1488,"y":1.8},{"x":1494,"y":1.9},{"x":1501,"y":1.8},{"x":1508,"y":1.5},{"x":1515,"y":1.3},{"x":1521,"y":1.2},{"x":1528,"y":1.5},{"x":1535,"y":2.0},{"x":1542,"y":2.3},{"x":1548,"y":2.4},{"x":1555,"y":2.3},{"x":1562,"y":2.0},{"x":1570,"y":1.9},{"x":1577,"y":2.2},{"x":1584,"y":2.6},{"x":1591,"y":2.9},{"x":1597,"y":3.0},{"x":1604,"y":2.8},{"x":1611,"y":2.6},{"x":1617,"y":2.5},{"x":1623,"y":2.5},{"x":1631,"y":2.7}],
"WROC_b":[{"x":1143,"y":4.6},{"x":1144,"y":3.8},{"x":1146,"y":5.2},{"x":1148,"y":4.6},{"x":1150,"y":5.3},{"x":1152,"y":4.8},{"x":1154,"y":5.6},{"x":1156,"y":5.0},{"x":1158,"y":6.0},{"x":1160,"y":5.0},{"x":1162,"y":5.4},{"x":1164,"y":4.0},{"x":1166,"y":4.8},{"x":1168,"y":3.8},{"x":1170,"y":5.0},{"x":1172,"y":4.2},{"x":1174,"y":5.2},{"x":1176,"y":3.6},{"x":1178,"y":4.5},{"x":1180,"y":3.2},{"x":1182,"y":4.0},{"x":1184,"y":2.0},{"x":1186,"y":5.8},{"x":1188,"y":3.2},{"x":1190,"y":2.6},{"x":1192,"y":4.6},{"x":1194,"y":3.0},{"x":1196,"y":4.0},{"x":1198,"y":3.4},{"x":1200,"y":4.6},{"x":1202,"y":3.6},{"x":1204,"y":5.2},{"x":1206,"y":4.0},{"x":1208,"y":4.8},{"x":1210,"y":3.8},{"x":1212,"y":5.0},{"x":1214,"y":4.2},{"x":1216,"y":3.6},{"x":1218,"y":4.6},{"x":1220,"y":5.6},{"x":1222,"y":4.4},{"x":1224,"y":5.2},{"x":1226,"y":3.8},{"x":1228,"y":5.4},{"x":1230,"y":4.0},{"x":1232,"y":3.2},{"x":1234,"y":3.6},{"x":1236,"y":2.4},{"x":1238,"y":3.0},{"x":1240,"y":1.8},{"x":1242,"y":1.5},{"x":1244,"y":2.0},{"x":1246,"y":3.6},{"x":1248,"y":2.4},{"x":1250,"y":3.0},{"x":1252,"y":2.0},{"x":1254,"y":2.6},{"x":1256,"y":1.6},{"x":1258,"y":2.6},{"x":1260,"y":1.8},{"x":1262,"y":2.4},{"x":1264,"y":1.5},{"x":1266,"y":2.2},{"x":1268,"y":1.4},{"x":1270,"y":2.8},{"x":1272,"y":4.8},{"x":1274,"y":4.0},{"x":1276,"y":4.2},{"x":1278,"y":3.0},{"x":1280,"y":3.6},{"x":1282,"y":2.8},{"x":1284,"y":3.4},{"x":1286,"y":2.6},{"x":1288,"y":3.2},{"x":1290,"y":2.4},{"x":1292,"y":2.8},{"x":1294,"y":1.2},{"x":1296,"y":1.6},{"x":1298,"y":0.8},{"x":1300,"y":1.2},{"x":1302,"y":2.2},{"x":1304,"y":0.8},{"x":1306,"y":-1.0},{"x":1308,"y":-0.5},{"x":1310,"y":-1.4},{"x":1312,"y":0.4},{"x":1314,"y":-0.6},{"x":1316,"y":1.0},{"x":1318,"y":2.4},{"x":1320,"y":1.0},{"x":1322,"y":0.4},{"x":1324,"y":1.2},{"x":1326,"y":0.0},{"x":1328,"y":1.6},{"x":1330,"y":0.2},{"x":1332,"y":2.4},{"x":1334,"y":0.4},{"x":1336,"y":0.6},{"x":1338,"y":-0.4},{"x":1340,"y":0.2},{"x":1342,"y":-0.5},{"x":1344,"y":0.0},{"x":1346,"y":-0.8},{"x":1348,"y":0.2},{"x":1350,"y":-0.6},{"x":1352,"y":0.0},{"x":1354,"y":-1.0},{"x":1356,"y":-0.2},{"x":1358,"y":-1.2},{"x":1360,"y":0.0},{"x":1362,"y":-0.8},{"x":1364,"y":0.2},{"x":1366,"y":-0.5},{"x":1368,"y":-1.2},{"x":1370,"y":0.6},{"x":1372,"y":-0.4},{"x":1374,"y":0.6},{"x":1376,"y":0.2},{"x":1378,"y":-1.0},{"x":1380,"y":-0.4},{"x":1382,"y":-1.6},{"x":1384,"y":-0.8},{"x":1386,"y":-1.5},{"x":1388,"y":-0.4},{"x":1390,"y":-2.6},{"x":1392,"y":-3.6},{"x":1393,"y":-5.6},{"x":1395,"y":-4.2},{"x":1397,"y":-4.6},{"x":1398,"y":-3.6},{"x":1399,"y":null},
{"x":1400,"y":-3.4},{"x":1402,"y":-2.8},{"x":1404,"y":-4.0},{"x":1406,"y":-3.0},{"x":1408,"y":-3.6},{"x":1410,"y":-2.4},{"x":1412,"y":-4.0},{"x":1414,"y":-3.2},{"x":1416,"y":-3.6},{"x":1418,"y":-1.6},{"x":1420,"y":-1.0},{"x":1422,"y":-2.0},{"x":1424,"y":-1.4},{"x":1426,"y":-2.0},{"x":1428,"y":-1.2},{"x":1430,"y":-2.2},{"x":1432,"y":-1.4},{"x":1434,"y":-2.0},{"x":1436,"y":-1.2},{"x":1438,"y":-1.8},{"x":1440,"y":-1.4},{"x":1442,"y":-2.0},{"x":1444,"y":-1.6},{"x":1446,"y":-2.2},{"x":1448,"y":-1.8},{"x":1450,"y":-2.6},{"x":1452,"y":-2.0},{"x":1454,"y":-2.6},{"x":1456,"y":-1.8},{"x":1458,"y":-2.4},{"x":1460,"y":-1.8},{"x":1462,"y":-2.6},{"x":1464,"y":-2.0},{"x":1466,"y":-1.4},{"x":1468,"y":-2.2},{"x":1470,"y":-1.2},{"x":1472,"y":-2.0},{"x":1474,"y":-1.0},{"x":1476,"y":-1.8},{"x":1478,"y":-1.0},{"x":1480,"y":-1.6},{"x":1482,"y":-0.6},{"x":1484,"y":-1.4},{"x":1486,"y":-0.8},{"x":1488,"y":-1.6},{"x":1490,"y":-1.0},{"x":1492,"y":-1.8},{"x":1494,"y":-1.2},{"x":1496,"y":-2.0},{"x":1498,"y":-1.4},{"x":1500,"y":-2.0},{"x":1502,"y":-1.6},{"x":1504,"y":-2.2},{"x":1506,"y":-1.4},{"x":1508,"y":-2.0},{"x":1510,"y":-1.6},{"x":1512,"y":-2.4},{"x":1514,"y":-1.8},{"x":1516,"y":-2.6},{"x":1518,"y":-2.0},{"x":1520,"y":-2.6},{"x":1522,"y":-2.0},{"x":1524,"y":-2.8},{"x":1526,"y":-2.2},{"x":1528,"y":-2.0},{"x":1530,"y":-2.6},{"x":1532,"y":-1.8},{"x":1534,"y":-2.4},{"x":1536,"y":-2.0},{"x":1538,"y":-2.6},{"x":1540,"y":-2.0},{"x":1542,"y":-2.8},{"x":1544,"y":-2.2},{"x":1546,"y":-2.6},{"x":1548,"y":-2.0},{"x":1550,"y":-2.8},{"x":1552,"y":-3.2},{"x":1554,"y":-2.6},{"x":1556,"y":-3.4},{"x":1558,"y":-2.8},{"x":1560,"y":-4.0},{"x":1562,"y":-3.0},{"x":1564,"y":-2.2},{"x":1566,"y":-1.2},{"x":1568,"y":-1.6},{"x":1570,"y":-2.8},{"x":1572,"y":-3.2},{"x":1574,"y":-2.8},{"x":1576,"y":-3.4},{"x":1578,"y":-2.8},{"x":1580,"y":-3.6},{"x":1582,"y":-2.8},{"x":1584,"y":-3.2},{"x":1586,"y":-2.6},{"x":1588,"y":-3.4},{"x":1590,"y":-2.6},{"x":1592,"y":-3.2},{"x":1594,"y":-2.4},{"x":1596,"y":-2.8},{"x":1598,"y":-2.2},{"x":1600,"y":-2.8},{"x":1602,"y":-2.4},{"x":1604,"y":-1.6},{"x":1606,"y":-2.8},{"x":1608,"y":-3.4},{"x":1610,"y":-3.0},{"x":1612,"y":-3.8},{"x":1614,"y":-3.2},{"x":1616,"y":-3.6},{"x":1618,"y":-3.4},{"x":1620,"y":-4.4},{"x":1622,"y":-3.0},{"x":1623,"y":-1.6},{"x":1625,"y":-3.2},{"x":1627,"y":-2.6},{"x":1629,"y":-2.8},{"x":1631,"y":-2.6}],
"WROC_r":[{"x":1143,"y":5.3},{"x":1150,"y":5.3},{"x":1158,"y":5.6},{"x":1165,"y":5.7},{"x":1172,"y":5.4},{"x":1180,"y":4.6},{"x":1188,"y":4.0},{"x":1197,"y":3.7},{"x":1206,"y":4.0},{"x":1216,"y":4.1},{"x":1224,"y":3.8},{"x":1232,"y":3.1},{"x":1238,"y":2.6},{"x":1244,"y":2.3},{"x":1252,"y":2.2},{"x":1260,"y":2.4},{"x":1268,"y":2.6},{"x":1275,"y":2.4},{"x":1283,"y":1.7},{"x":1291,"y":1.0},{"x":1300,"y":0.7},{"x":1308,"y":0.8},{"x":1317,"y":1.1},{"x":1325,"y":0.9},{"x":1332,"y":0.4},{"x":1340,"y":-0.3},{"x":1347,"y":-0.8},{"x":1354,"y":-0.9},{"x":1362,"y":-0.7},{"x":1370,"y":-0.5},{"x":1377,"y":-0.6},{"x":1384,"y":-1.0},{"x":1391,"y":-1.6},{"x":1398,"y":-2.2},{"x":1399,"y":null},{"x":1400,"y":-1.9},{"x":1408,"y":-2.0},{"x":1415,"y":-1.9},{"x":1422,"y":-1.7},{"x":1430,"y":-1.5},{"x":1438,"y":-1.5},{"x":1445,"y":-1.8},{"x":1452,"y":-2.1},{"x":1460,"y":-2.4},{"x":1468,"y":-2.3},{"x":1476,"y":-2.0},{"x":1483,"y":-1.8},{"x":1490,"y":-1.7},{"x":1497,"y":-1.9},{"x":1505,"y":-2.3},{"x":1513,"y":-2.6},{"x":1520,"y":-2.5},{"x":1527,"y":-2.2},{"x":1535,"y":-2.0},{"x":1542,"y":-1.9},{"x":1549,"y":-2.1},{"x":1556,"y":-2.5},{"x":1563,"y":-2.7},{"x":1568,"y":-2.8},{"x":1575,"y":-2.6},{"x":1583,"y":-2.4},{"x":1591,"y":-2.2},{"x":1598,"y":-2.4},{"x":1606,"y":-2.7},{"x":1613,"y":-2.9},{"x":1618,"y":-3.0},{"x":1624,"y":-2.9},{"x":1631,"y":-2.6}]
},
"spacing":58,
"vconcat":[
{"spacing":31,"vconcat":[
{"width":639,"height":142,"layer":[{"data":{"name":"BOGI_b"},"mark":{"type":"line","color":"#0000ff","strokeWidth":1.6,"invalid":"break-paths-filter-domains"},"encoding":{"x":{"field":"x","type":"quantitative","scale":{"domain":[1125,1650],"nice":false,"zero":false},"axis":{"title":null}},"y":{"field":"y","type":"quantitative","scale":{"domain":[-10,10],"nice":false},"axis":{"title":"[mm]"}}}},{"data":{"name":"BOGI_r"},"mark":{"type":"line","color":"#ff0000","strokeWidth":2,"interpolate":"monotone","invalid":"break-paths-filter-domains"},"encoding":{"x":{"field":"x","type":"quantitative","axis":{"orient":"top","title":null}},"y":{"field":"y","type":"quantitative","axis":{"orient":"right","title":"BOGI"}}}}],"resolve":{"axis":{"x":"independent","y":"independent"}}},
{"width":639,"height":142,"layer":[{"data":{"name":"BOGO_b"},"mark":{"type":"line","color":"#0000ff","strokeWidth":1.6,"invalid":"break-paths-filter-domains"},"encoding":{"x":{"field":"x","type":"quantitative","scale":{"domain":[1125,1650],"nice":false,"zero":false},"axis":{"title":null}},"y":{"field":"y","type":"quantitative","scale":{"domain":[-10,10],"nice":false},"axis":{"title":"[mm]"}}}},{"data":{"name":"BOGO_r"},"mark":{"type":"line","color":"#ff0000","strokeWidth":2,"interpolate":"monotone","invalid":"break-paths-filter-domains"},"encoding":{"x":{"field":"x","type":"quantitative","axis":{"orient":"top","title":null}},"y":{"field":"y","type":"quantitative","axis":{"orient":"right","title":"BOGO"}}}}],"resolve":{"axis":{"x":"independent","y":"independent"}}},
{"width":639,"height":142,"layer":[{"data":{"name":"BOR1_b"},"mark":{"type":"line","color":"#0000ff","strokeWidth":1.6,"invalid":"break-paths-filter-domains"},"encoding":{"x":{"field":"x","type":"quantitative","scale":{"domain":[1125,1650],"nice":false,"zero":false},"axis":{"title":null}},"y":{"field":"y","type":"quantitative","scale":{"domain":[-10,10],"nice":false},"axis":{"title":"[mm]"}}}},{"data":{"name":"BOR1_r"},"mark":{"type":"line","color":"#ff0000","strokeWidth":2,"interpolate":"monotone","invalid":"break-paths-filter-domains"},"encoding":{"x":{"field":"x","type":"quantitative","axis":{"orient":"top","title":null}},"y":{"field":"y","type":"quantitative","axis":{"orient":"right","title":"BOR1"}}}}],"resolve":{"axis":{"x":"independent","y":"independent"}}}
]},
{"spacing":31,"vconcat":[
{"width":639,"height":142,"layer":[{"data":{"name":"JOZ2_b"},"mark":{"type":"line","color":"#0000ff","strokeWidth":1.6,"invalid":"break-paths-filter-domains"},"encoding":{"x":{"field":"x","type":"quantitative","scale":{"domain":[1125,1650],"nice":false,"zero":false},"axis":{"title":null}},"y":{"field":"y","type":"quantitative","scale":{"domain":[-10,10],"nice":false},"axis":{"title":"[mm]"}}}},{"data":{"name":"JOZ2_r"},"mark":{"type":"line","color":"#ff0000","strokeWidth":2,"interpolate":"monotone","invalid":"break-paths-filter-domains"},"encoding":{"x":{"field":"x","type":"quantitative","axis":{"orient":"top","title":null}},"y":{"field":"y","type":"quantitative","axis":{"orient":"right","title":"JOZ2"}}}}],"resolve":{"axis":{"x":"independent","y":"independent"}}},
{"width":639,"height":142,"layer":[{"data":{"name":"JOZE_b"},"mark":{"type":"line","color":"#0000ff","strokeWidth":1.6,"invalid":"break-paths-filter-domains"},"encoding":{"x":{"field":"x","type":"quantitative","scale":{"domain":[1125,1650],"nice":false,"zero":false},"axis":{"title":null}},"y":{"field":"y","type":"quantitative","scale":{"domain":[-10,10],"nice":false},"axis":{"title":"[mm]"}}}},{"data":{"name":"JOZE_r"},"mark":{"type":"line","color":"#ff0000","strokeWidth":2,"interpolate":"monotone","invalid":"break-paths-filter-domains"},"encoding":{"x":{"field":"x","type":"quantitative","axis":{"orient":"top","title":null}},"y":{"field":"y","type":"quantitative","axis":{"orient":"right","title":"JOZE"}}}}],"resolve":{"axis":{"x":"independent","y":"independent"}}},
{"width":639,"height":142,"layer":[{"data":{"name":"KATO_b"},"mark":{"type":"line","color":"#0000ff","strokeWidth":1.6,"invalid":"break-paths-filter-domains"},"encoding":{"x":{"field":"x","type":"quantitative","scale":{"domain":[1125,1650],"nice":false,"zero":false},"axis":{"title":null}},"y":{"field":"y","type":"quantitative","scale":{"domain":[-10,10],"nice":false},"axis":{"title":"[mm]"}}}},{"data":{"name":"KATO_r"},"mark":{"type":"line","color":"#ff0000","strokeWidth":2,"interpolate":"monotone","invalid":"break-paths-filter-domains"},"encoding":{"x":{"field":"x","type":"quantitative","axis":{"orient":"top","title":null}},"y":{"field":"y","type":"quantitative","axis":{"orient":"right","title":"KATO"}}}}],"resolve":{"axis":{"x":"independent","y":"independent"}}}
]},
{"spacing":31,"vconcat":[
{"width":639,"height":142,"layer":[{"data":{"name":"KRAW_b"},"mark":{"type":"line","color":"#0000ff","strokeWidth":1.6,"invalid":"break-paths-filter-domains"},"encoding":{"x":{"field":"x","type":"quantitative","scale":{"domain":[1125,1650],"nice":false,"zero":false},"axis":{"title":null}},"y":{"field":"y","type":"quantitative","scale":{"domain":[-10,10],"nice":false},"axis":{"title":"[mm]"}}}},{"data":{"name":"KRAW_r"},"mark":{"type":"line","color":"#ff0000","strokeWidth":2,"interpolate":"monotone","invalid":"break-paths-filter-domains"},"encoding":{"x":{"field":"x","type":"quantitative","axis":{"orient":"top","title":null}},"y":{"field":"y","type":"quantitative","axis":{"orient":"right","title":"KRAW"}}}}],"resolve":{"axis":{"x":"independent","y":"independent"}}},
{"width":639,"height":142,"layer":[{"data":{"name":"LAMA_b"},"mark":{"type":"line","color":"#0000ff","strokeWidth":1.6,"invalid":"break-paths-filter-domains"},"encoding":{"x":{"field":"x","type":"quantitative","scale":{"domain":[1125,1650],"nice":false,"zero":false},"axis":{"title":null}},"y":{"field":"y","type":"quantitative","scale":{"domain":[-10,10],"nice":false},"axis":{"title":"[mm]"}}}},{"data":{"name":"LAMA_r"},"mark":{"type":"line","color":"#ff0000","strokeWidth":2,"interpolate":"monotone","invalid":"break-paths-filter-domains"},"encoding":{"x":{"field":"x","type":"quantitative","axis":{"orient":"top","title":null}},"y":{"field":"y","type":"quantitative","axis":{"orient":"right","title":"LAMA"}}}}],"resolve":{"axis":{"x":"independent","y":"independent"}}},
{"width":639,"height":142,"layer":[{"data":{"name":"WROC_b"},"mark":{"type":"line","color":"#0000ff","strokeWidth":1.6,"invalid":"break-paths-filter-domains"},"encoding":{"x":{"field":"x","type":"quantitative","scale":{"domain":[1125,1650],"nice":false,"zero":false},"axis":{"title":null}},"y":{"field":"y","type":"quantitative","scale":{"domain":[-10,10],"nice":false},"axis":{"title":"[mm]"}}}},{"data":{"name":"WROC_r"},"mark":{"type":"line","color":"#ff0000","strokeWidth":2,"interpolate":"monotone","invalid":"break-paths-filter-domains"},"encoding":{"x":{"field":"x","type":"quantitative","axis":{"orient":"top","title":null}},"y":{"field":"y","type":"quantitative","axis":{"orient":"right","title":"WROC"}}}}],"resolve":{"axis":{"x":"independent","y":"independent"}}}
]}
]
}
